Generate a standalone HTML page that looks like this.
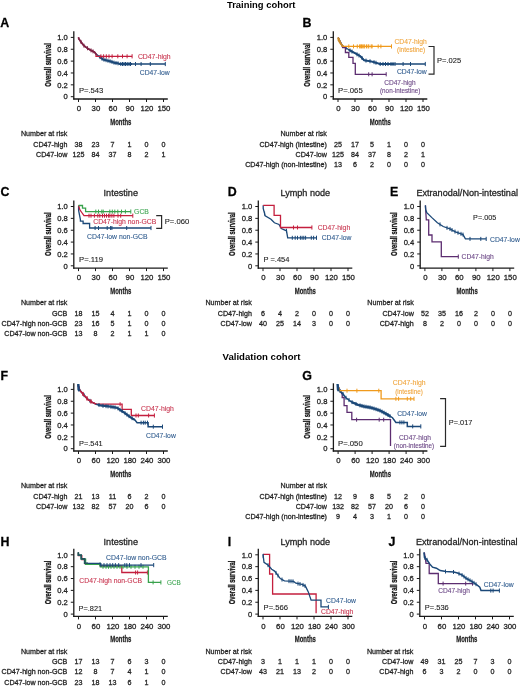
<!DOCTYPE html>
<html><head><meta charset="utf-8"><style>
html,body{margin:0;padding:0;background:#fff;}
svg{display:block;font-family:"Liberation Sans", sans-serif;will-change:transform;}
</style></head><body>
<svg width="520" height="687" viewBox="0 0 520 687" font-family='"Liberation Sans", sans-serif'>
<rect width="520" height="687" fill="#fff"/>
<line x1="73.80" y1="31.30" x2="73.80" y2="99.60" stroke="#1a1a1a" stroke-width="1.3"/>
<line x1="73.20" y1="99.00" x2="167.80" y2="99.00" stroke="#1a1a1a" stroke-width="1.3"/>
<line x1="70.80" y1="37.40" x2="73.80" y2="37.40" stroke="#1a1a1a" stroke-width="1.0"/>
<text x="67.80" y="40.15" font-size="7.6" text-anchor="end" fill="#222" stroke="#222" stroke-width="0.26" font-weight="normal" >1.0</text>
<line x1="70.80" y1="49.26" x2="73.80" y2="49.26" stroke="#1a1a1a" stroke-width="1.0"/>
<text x="67.80" y="52.01" font-size="7.6" text-anchor="end" fill="#222" stroke="#222" stroke-width="0.26" font-weight="normal" >0.8</text>
<line x1="70.80" y1="61.12" x2="73.80" y2="61.12" stroke="#1a1a1a" stroke-width="1.0"/>
<text x="67.80" y="63.87" font-size="7.6" text-anchor="end" fill="#222" stroke="#222" stroke-width="0.26" font-weight="normal" >0.6</text>
<line x1="70.80" y1="72.98" x2="73.80" y2="72.98" stroke="#1a1a1a" stroke-width="1.0"/>
<text x="67.80" y="75.73" font-size="7.6" text-anchor="end" fill="#222" stroke="#222" stroke-width="0.26" font-weight="normal" >0.4</text>
<line x1="70.80" y1="84.84" x2="73.80" y2="84.84" stroke="#1a1a1a" stroke-width="1.0"/>
<text x="67.80" y="87.59" font-size="7.6" text-anchor="end" fill="#222" stroke="#222" stroke-width="0.26" font-weight="normal" >0.2</text>
<line x1="70.80" y1="96.70" x2="73.80" y2="96.70" stroke="#1a1a1a" stroke-width="1.0"/>
<text x="67.80" y="99.45" font-size="7.6" text-anchor="end" fill="#222" stroke="#222" stroke-width="0.26" font-weight="normal" >0</text>
<line x1="78.50" y1="99.00" x2="78.50" y2="102.00" stroke="#1a1a1a" stroke-width="1.0"/>
<text x="78.90" y="111.30" font-size="7.8" text-anchor="middle" fill="#222" stroke="#222" stroke-width="0.26" font-weight="normal" >0</text>
<line x1="95.50" y1="99.00" x2="95.50" y2="102.00" stroke="#1a1a1a" stroke-width="1.0"/>
<text x="95.90" y="111.30" font-size="7.8" text-anchor="middle" fill="#222" stroke="#222" stroke-width="0.26" font-weight="normal" >30</text>
<line x1="112.50" y1="99.00" x2="112.50" y2="102.00" stroke="#1a1a1a" stroke-width="1.0"/>
<text x="112.90" y="111.30" font-size="7.8" text-anchor="middle" fill="#222" stroke="#222" stroke-width="0.26" font-weight="normal" >60</text>
<line x1="129.50" y1="99.00" x2="129.50" y2="102.00" stroke="#1a1a1a" stroke-width="1.0"/>
<text x="129.90" y="111.30" font-size="7.8" text-anchor="middle" fill="#222" stroke="#222" stroke-width="0.26" font-weight="normal" >90</text>
<line x1="146.50" y1="99.00" x2="146.50" y2="102.00" stroke="#1a1a1a" stroke-width="1.0"/>
<text x="146.90" y="111.30" font-size="7.8" text-anchor="middle" fill="#222" stroke="#222" stroke-width="0.26" font-weight="normal" >120</text>
<line x1="163.50" y1="99.00" x2="163.50" y2="102.00" stroke="#1a1a1a" stroke-width="1.0"/>
<text x="163.90" y="111.30" font-size="7.8" text-anchor="middle" fill="#222" stroke="#222" stroke-width="0.26" font-weight="normal" >150</text>
<text x="120.80" y="124.60" font-size="9.6" text-anchor="middle" fill="#222" stroke="#222" stroke-width="0.26" font-weight="bold" textLength="21.2" lengthAdjust="spacingAndGlyphs">Months</text>
<text transform="translate(50.60,65.00) rotate(-90)" font-size="9.6" text-anchor="middle" fill="#111" stroke="#111" stroke-width="0.3" font-weight="bold" textLength="43.6" lengthAdjust="spacingAndGlyphs">Overall survival</text>
<text x="0.20" y="27.40" font-size="12.4" text-anchor="start" fill="#000" stroke="#000" stroke-width="0.26" font-weight="bold" >A</text>
<text x="67.40" y="136.30" font-size="7.15" text-anchor="end" fill="#222" stroke="#222" stroke-width="0.26" font-weight="normal" >Number at risk</text>
<text x="67.40" y="146.60" font-size="7.15" text-anchor="end" fill="#222" stroke="#222" stroke-width="0.26" font-weight="normal" >CD47-high</text>
<text x="78.50" y="146.60" font-size="7.15" text-anchor="middle" fill="#222" stroke="#222" stroke-width="0.26" font-weight="normal" >38</text>
<text x="95.50" y="146.60" font-size="7.15" text-anchor="middle" fill="#222" stroke="#222" stroke-width="0.26" font-weight="normal" >23</text>
<text x="112.50" y="146.60" font-size="7.15" text-anchor="middle" fill="#222" stroke="#222" stroke-width="0.26" font-weight="normal" >7</text>
<text x="129.50" y="146.60" font-size="7.15" text-anchor="middle" fill="#222" stroke="#222" stroke-width="0.26" font-weight="normal" >1</text>
<text x="146.50" y="146.60" font-size="7.15" text-anchor="middle" fill="#222" stroke="#222" stroke-width="0.26" font-weight="normal" >0</text>
<text x="163.50" y="146.60" font-size="7.15" text-anchor="middle" fill="#222" stroke="#222" stroke-width="0.26" font-weight="normal" >0</text>
<text x="67.40" y="156.90" font-size="7.15" text-anchor="end" fill="#222" stroke="#222" stroke-width="0.26" font-weight="normal" >CD47-low</text>
<text x="78.50" y="156.90" font-size="7.15" text-anchor="middle" fill="#222" stroke="#222" stroke-width="0.26" font-weight="normal" >125</text>
<text x="95.50" y="156.90" font-size="7.15" text-anchor="middle" fill="#222" stroke="#222" stroke-width="0.26" font-weight="normal" >84</text>
<text x="112.50" y="156.90" font-size="7.15" text-anchor="middle" fill="#222" stroke="#222" stroke-width="0.26" font-weight="normal" >37</text>
<text x="129.50" y="156.90" font-size="7.15" text-anchor="middle" fill="#222" stroke="#222" stroke-width="0.26" font-weight="normal" >8</text>
<text x="146.50" y="156.90" font-size="7.15" text-anchor="middle" fill="#222" stroke="#222" stroke-width="0.26" font-weight="normal" >2</text>
<text x="163.50" y="156.90" font-size="7.15" text-anchor="middle" fill="#222" stroke="#222" stroke-width="0.26" font-weight="normal" >1</text>
<path d="M78.50,37.40 L78.70,38.60 L81.40,42.50 L83.70,45.50 L86.80,47.80 L90.60,50.20 L94.50,52.10 L96.00,54.00 L99.00,56.30 L102.90,59.40 L108.30,60.80 L110.90,61.50 L114.50,62.80 L118.30,63.40 L119.80,64.00 L165.30,64.00" fill="none" stroke="#1b4878" stroke-width="1.3" stroke-linejoin="miter"/>
<line x1="100.00" y1="55.09" x2="100.00" y2="59.09" stroke="#1b4878" stroke-width="1.0"/>
<line x1="102.00" y1="56.68" x2="102.00" y2="60.68" stroke="#1b4878" stroke-width="1.0"/>
<line x1="104.00" y1="57.69" x2="104.00" y2="61.69" stroke="#1b4878" stroke-width="1.0"/>
<line x1="106.00" y1="58.20" x2="106.00" y2="62.20" stroke="#1b4878" stroke-width="1.0"/>
<line x1="108.00" y1="58.72" x2="108.00" y2="62.72" stroke="#1b4878" stroke-width="1.0"/>
<line x1="110.00" y1="59.26" x2="110.00" y2="63.26" stroke="#1b4878" stroke-width="1.0"/>
<line x1="112.00" y1="59.90" x2="112.00" y2="63.90" stroke="#1b4878" stroke-width="1.0"/>
<line x1="114.00" y1="60.62" x2="114.00" y2="64.62" stroke="#1b4878" stroke-width="1.0"/>
<line x1="116.00" y1="61.04" x2="116.00" y2="65.04" stroke="#1b4878" stroke-width="1.0"/>
<line x1="118.00" y1="61.35" x2="118.00" y2="65.35" stroke="#1b4878" stroke-width="1.0"/>
<line x1="120.80" y1="62.00" x2="120.80" y2="66.00" stroke="#1b4878" stroke-width="1.0"/>
<line x1="122.50" y1="62.00" x2="122.50" y2="66.00" stroke="#1b4878" stroke-width="1.0"/>
<line x1="124.00" y1="62.00" x2="124.00" y2="66.00" stroke="#1b4878" stroke-width="1.0"/>
<line x1="125.50" y1="62.00" x2="125.50" y2="66.00" stroke="#1b4878" stroke-width="1.0"/>
<line x1="127.20" y1="62.00" x2="127.20" y2="66.00" stroke="#1b4878" stroke-width="1.0"/>
<line x1="129.00" y1="62.00" x2="129.00" y2="66.00" stroke="#1b4878" stroke-width="1.0"/>
<line x1="130.50" y1="62.00" x2="130.50" y2="66.00" stroke="#1b4878" stroke-width="1.0"/>
<line x1="135.50" y1="62.00" x2="135.50" y2="66.00" stroke="#1b4878" stroke-width="1.0"/>
<line x1="141.10" y1="62.00" x2="141.10" y2="66.00" stroke="#1b4878" stroke-width="1.0"/>
<line x1="150.30" y1="62.00" x2="150.30" y2="66.00" stroke="#1b4878" stroke-width="1.0"/>
<line x1="165.30" y1="61.90" x2="165.30" y2="66.10" stroke="#1b4878" stroke-width="1.0"/>
<path d="M99.00,56.30 L102.90,59.40 L108.30,60.80 L110.90,61.50 L114.50,62.80 L118.30,63.40 L119.80,64.00 L132.00,64.00" fill="none" stroke="#1b4878" stroke-width="1.9" stroke-linejoin="miter"/>
<path d="M78.50,37.40 L78.70,38.60 L81.40,42.50 L83.70,45.50 L86.80,47.80 L90.60,50.20 L94.50,52.10 L96.00,54.00 L96.00,56.30 L132.10,56.30" fill="none" stroke="#c41f3e" stroke-width="1.3" stroke-linejoin="miter"/>
<line x1="100.90" y1="54.30" x2="100.90" y2="58.30" stroke="#c41f3e" stroke-width="1.0"/>
<line x1="103.60" y1="54.30" x2="103.60" y2="58.30" stroke="#c41f3e" stroke-width="1.0"/>
<line x1="106.30" y1="54.30" x2="106.30" y2="58.30" stroke="#c41f3e" stroke-width="1.0"/>
<line x1="109.00" y1="54.30" x2="109.00" y2="58.30" stroke="#c41f3e" stroke-width="1.0"/>
<line x1="112.10" y1="54.30" x2="112.10" y2="58.30" stroke="#c41f3e" stroke-width="1.0"/>
<line x1="117.80" y1="54.30" x2="117.80" y2="58.30" stroke="#c41f3e" stroke-width="1.0"/>
<line x1="122.50" y1="54.30" x2="122.50" y2="58.30" stroke="#c41f3e" stroke-width="1.0"/>
<line x1="127.10" y1="54.30" x2="127.10" y2="58.30" stroke="#c41f3e" stroke-width="1.0"/>
<line x1="132.10" y1="54.20" x2="132.10" y2="58.40" stroke="#c41f3e" stroke-width="1.0"/>
<path d="M78.50,37.40 L78.70,38.60 L81.40,42.50 L83.70,45.50 L86.80,47.80 L90.60,50.20 L94.50,52.10 L96.00,54.00 L97.00,55.00" fill="none" stroke="#7e2446" stroke-width="1.6" stroke-linejoin="miter"/>
<line x1="81.00" y1="39.92" x2="81.00" y2="43.92" stroke="#7e2446" stroke-width="1.0"/>
<line x1="84.00" y1="43.72" x2="84.00" y2="47.72" stroke="#7e2446" stroke-width="1.0"/>
<line x1="87.50" y1="46.24" x2="87.50" y2="50.24" stroke="#7e2446" stroke-width="1.0"/>
<line x1="91.00" y1="48.39" x2="91.00" y2="52.39" stroke="#7e2446" stroke-width="1.0"/>
<line x1="93.00" y1="49.37" x2="93.00" y2="53.37" stroke="#7e2446" stroke-width="1.0"/>
<text x="137.90" y="58.70" font-size="7" fill="#c8354f" stroke="#c8354f" stroke-width="0.1" textLength="32.8" lengthAdjust="spacingAndGlyphs">CD47-high</text>
<text x="139.80" y="75.20" font-size="7" fill="#2f5b8e" stroke="#2f5b8e" stroke-width="0.1" textLength="29.8" lengthAdjust="spacingAndGlyphs">CD47-low</text>
<text x="78.90" y="92.90" font-size="7" fill="#222" stroke="#222" stroke-width="0.1" textLength="24.5" lengthAdjust="spacingAndGlyphs">P=.543</text>
<line x1="333.30" y1="31.30" x2="333.30" y2="99.60" stroke="#1a1a1a" stroke-width="1.3"/>
<line x1="332.70" y1="99.00" x2="427.30" y2="99.00" stroke="#1a1a1a" stroke-width="1.3"/>
<line x1="330.30" y1="37.40" x2="333.30" y2="37.40" stroke="#1a1a1a" stroke-width="1.0"/>
<text x="327.30" y="40.15" font-size="7.6" text-anchor="end" fill="#222" stroke="#222" stroke-width="0.26" font-weight="normal" >1.0</text>
<line x1="330.30" y1="49.26" x2="333.30" y2="49.26" stroke="#1a1a1a" stroke-width="1.0"/>
<text x="327.30" y="52.01" font-size="7.6" text-anchor="end" fill="#222" stroke="#222" stroke-width="0.26" font-weight="normal" >0.8</text>
<line x1="330.30" y1="61.12" x2="333.30" y2="61.12" stroke="#1a1a1a" stroke-width="1.0"/>
<text x="327.30" y="63.87" font-size="7.6" text-anchor="end" fill="#222" stroke="#222" stroke-width="0.26" font-weight="normal" >0.6</text>
<line x1="330.30" y1="72.98" x2="333.30" y2="72.98" stroke="#1a1a1a" stroke-width="1.0"/>
<text x="327.30" y="75.73" font-size="7.6" text-anchor="end" fill="#222" stroke="#222" stroke-width="0.26" font-weight="normal" >0.4</text>
<line x1="330.30" y1="84.84" x2="333.30" y2="84.84" stroke="#1a1a1a" stroke-width="1.0"/>
<text x="327.30" y="87.59" font-size="7.6" text-anchor="end" fill="#222" stroke="#222" stroke-width="0.26" font-weight="normal" >0.2</text>
<line x1="330.30" y1="96.70" x2="333.30" y2="96.70" stroke="#1a1a1a" stroke-width="1.0"/>
<text x="327.30" y="99.45" font-size="7.6" text-anchor="end" fill="#222" stroke="#222" stroke-width="0.26" font-weight="normal" >0</text>
<line x1="338.00" y1="99.00" x2="338.00" y2="102.00" stroke="#1a1a1a" stroke-width="1.0"/>
<text x="338.40" y="111.30" font-size="7.8" text-anchor="middle" fill="#222" stroke="#222" stroke-width="0.26" font-weight="normal" >0</text>
<line x1="355.00" y1="99.00" x2="355.00" y2="102.00" stroke="#1a1a1a" stroke-width="1.0"/>
<text x="355.40" y="111.30" font-size="7.8" text-anchor="middle" fill="#222" stroke="#222" stroke-width="0.26" font-weight="normal" >30</text>
<line x1="372.00" y1="99.00" x2="372.00" y2="102.00" stroke="#1a1a1a" stroke-width="1.0"/>
<text x="372.40" y="111.30" font-size="7.8" text-anchor="middle" fill="#222" stroke="#222" stroke-width="0.26" font-weight="normal" >60</text>
<line x1="389.00" y1="99.00" x2="389.00" y2="102.00" stroke="#1a1a1a" stroke-width="1.0"/>
<text x="389.40" y="111.30" font-size="7.8" text-anchor="middle" fill="#222" stroke="#222" stroke-width="0.26" font-weight="normal" >90</text>
<line x1="406.00" y1="99.00" x2="406.00" y2="102.00" stroke="#1a1a1a" stroke-width="1.0"/>
<text x="406.40" y="111.30" font-size="7.8" text-anchor="middle" fill="#222" stroke="#222" stroke-width="0.26" font-weight="normal" >120</text>
<line x1="423.00" y1="99.00" x2="423.00" y2="102.00" stroke="#1a1a1a" stroke-width="1.0"/>
<text x="423.40" y="111.30" font-size="7.8" text-anchor="middle" fill="#222" stroke="#222" stroke-width="0.26" font-weight="normal" >150</text>
<text x="380.30" y="124.60" font-size="9.6" text-anchor="middle" fill="#222" stroke="#222" stroke-width="0.26" font-weight="bold" textLength="21.2" lengthAdjust="spacingAndGlyphs">Months</text>
<text transform="translate(310.10,65.00) rotate(-90)" font-size="9.6" text-anchor="middle" fill="#111" stroke="#111" stroke-width="0.3" font-weight="bold" textLength="43.6" lengthAdjust="spacingAndGlyphs">Overall survival</text>
<text x="302.50" y="27.40" font-size="12.4" text-anchor="start" fill="#000" stroke="#000" stroke-width="0.26" font-weight="bold" >B</text>
<text x="326.90" y="136.30" font-size="7.15" text-anchor="end" fill="#222" stroke="#222" stroke-width="0.26" font-weight="normal" >Number at risk</text>
<text x="326.90" y="146.60" font-size="7.15" text-anchor="end" fill="#222" stroke="#222" stroke-width="0.26" font-weight="normal" >CD47-high (intestine)</text>
<text x="338.00" y="146.60" font-size="7.15" text-anchor="middle" fill="#222" stroke="#222" stroke-width="0.26" font-weight="normal" >25</text>
<text x="355.00" y="146.60" font-size="7.15" text-anchor="middle" fill="#222" stroke="#222" stroke-width="0.26" font-weight="normal" >17</text>
<text x="372.00" y="146.60" font-size="7.15" text-anchor="middle" fill="#222" stroke="#222" stroke-width="0.26" font-weight="normal" >5</text>
<text x="389.00" y="146.60" font-size="7.15" text-anchor="middle" fill="#222" stroke="#222" stroke-width="0.26" font-weight="normal" >1</text>
<text x="406.00" y="146.60" font-size="7.15" text-anchor="middle" fill="#222" stroke="#222" stroke-width="0.26" font-weight="normal" >0</text>
<text x="423.00" y="146.60" font-size="7.15" text-anchor="middle" fill="#222" stroke="#222" stroke-width="0.26" font-weight="normal" >0</text>
<text x="326.90" y="156.90" font-size="7.15" text-anchor="end" fill="#222" stroke="#222" stroke-width="0.26" font-weight="normal" >CD47-low</text>
<text x="338.00" y="156.90" font-size="7.15" text-anchor="middle" fill="#222" stroke="#222" stroke-width="0.26" font-weight="normal" >125</text>
<text x="355.00" y="156.90" font-size="7.15" text-anchor="middle" fill="#222" stroke="#222" stroke-width="0.26" font-weight="normal" >84</text>
<text x="372.00" y="156.90" font-size="7.15" text-anchor="middle" fill="#222" stroke="#222" stroke-width="0.26" font-weight="normal" >37</text>
<text x="389.00" y="156.90" font-size="7.15" text-anchor="middle" fill="#222" stroke="#222" stroke-width="0.26" font-weight="normal" >8</text>
<text x="406.00" y="156.90" font-size="7.15" text-anchor="middle" fill="#222" stroke="#222" stroke-width="0.26" font-weight="normal" >2</text>
<text x="423.00" y="156.90" font-size="7.15" text-anchor="middle" fill="#222" stroke="#222" stroke-width="0.26" font-weight="normal" >1</text>
<text x="326.90" y="167.20" font-size="7.15" text-anchor="end" fill="#222" stroke="#222" stroke-width="0.26" font-weight="normal" >CD47-high (non-intestine)</text>
<text x="338.00" y="167.20" font-size="7.15" text-anchor="middle" fill="#222" stroke="#222" stroke-width="0.26" font-weight="normal" >13</text>
<text x="355.00" y="167.20" font-size="7.15" text-anchor="middle" fill="#222" stroke="#222" stroke-width="0.26" font-weight="normal" >6</text>
<text x="372.00" y="167.20" font-size="7.15" text-anchor="middle" fill="#222" stroke="#222" stroke-width="0.26" font-weight="normal" >2</text>
<text x="389.00" y="167.20" font-size="7.15" text-anchor="middle" fill="#222" stroke="#222" stroke-width="0.26" font-weight="normal" >0</text>
<text x="406.00" y="167.20" font-size="7.15" text-anchor="middle" fill="#222" stroke="#222" stroke-width="0.26" font-weight="normal" >0</text>
<text x="423.00" y="167.20" font-size="7.15" text-anchor="middle" fill="#222" stroke="#222" stroke-width="0.26" font-weight="normal" >0</text>
<path d="M338.00,37.60 L338.50,38.20 L341.50,44.00 L342.30,45.50 L348.80,49.80 L355.00,53.20 L360.40,56.30 L364.20,60.30 L368.00,60.90 L372.10,61.60 L378.80,63.60 L380.00,64.00 L425.30,64.00" fill="none" stroke="#1b4878" stroke-width="1.3" stroke-linejoin="miter"/>
<line x1="346.00" y1="45.95" x2="346.00" y2="49.95" stroke="#1b4878" stroke-width="1.0"/>
<line x1="350.00" y1="48.46" x2="350.00" y2="52.46" stroke="#1b4878" stroke-width="1.0"/>
<line x1="352.00" y1="49.55" x2="352.00" y2="53.55" stroke="#1b4878" stroke-width="1.0"/>
<line x1="357.00" y1="52.35" x2="357.00" y2="56.35" stroke="#1b4878" stroke-width="1.0"/>
<line x1="359.00" y1="53.50" x2="359.00" y2="57.50" stroke="#1b4878" stroke-width="1.0"/>
<line x1="362.00" y1="55.98" x2="362.00" y2="59.98" stroke="#1b4878" stroke-width="1.0"/>
<line x1="366.00" y1="58.58" x2="366.00" y2="62.58" stroke="#1b4878" stroke-width="1.0"/>
<line x1="370.00" y1="59.24" x2="370.00" y2="63.24" stroke="#1b4878" stroke-width="1.0"/>
<line x1="374.00" y1="60.17" x2="374.00" y2="64.17" stroke="#1b4878" stroke-width="1.0"/>
<line x1="376.00" y1="60.76" x2="376.00" y2="64.76" stroke="#1b4878" stroke-width="1.0"/>
<line x1="380.20" y1="62.00" x2="380.20" y2="66.00" stroke="#1b4878" stroke-width="1.0"/>
<line x1="383.00" y1="62.00" x2="383.00" y2="66.00" stroke="#1b4878" stroke-width="1.0"/>
<line x1="385.50" y1="62.00" x2="385.50" y2="66.00" stroke="#1b4878" stroke-width="1.0"/>
<line x1="388.00" y1="62.00" x2="388.00" y2="66.00" stroke="#1b4878" stroke-width="1.0"/>
<line x1="391.00" y1="62.00" x2="391.00" y2="66.00" stroke="#1b4878" stroke-width="1.0"/>
<line x1="393.00" y1="62.00" x2="393.00" y2="66.00" stroke="#1b4878" stroke-width="1.0"/>
<line x1="395.00" y1="62.00" x2="395.00" y2="66.00" stroke="#1b4878" stroke-width="1.0"/>
<line x1="403.10" y1="62.00" x2="403.10" y2="66.00" stroke="#1b4878" stroke-width="1.0"/>
<line x1="410.50" y1="62.00" x2="410.50" y2="66.00" stroke="#1b4878" stroke-width="1.0"/>
<line x1="425.30" y1="61.90" x2="425.30" y2="66.10" stroke="#1b4878" stroke-width="1.0"/>
<path d="M348.80,49.80 L355.00,53.20 L360.40,56.30 L364.20,60.30 L368.00,60.90 L372.10,61.60 L378.80,63.60 L380.00,64.00 L394.00,64.00" fill="none" stroke="#1b4878" stroke-width="1.9" stroke-linejoin="miter"/>
<path d="M338.00,37.60 L338.50,38.20 L341.50,44.50 L342.70,47.50 L345.40,47.50 L345.40,52.50 L348.80,52.50 L348.80,57.40 L353.00,57.40 L353.00,63.30 L355.30,63.30 L355.30,74.30 L386.20,74.30" fill="none" stroke="#5c2d70" stroke-width="1.3" stroke-linejoin="miter"/>
<line x1="368.70" y1="72.30" x2="368.70" y2="76.30" stroke="#5c2d70" stroke-width="1.0"/>
<line x1="372.10" y1="72.30" x2="372.10" y2="76.30" stroke="#5c2d70" stroke-width="1.0"/>
<line x1="386.20" y1="72.20" x2="386.20" y2="76.40" stroke="#5c2d70" stroke-width="1.0"/>
<path d="M338.00,37.60 L338.50,38.20 L340.80,43.20 L342.30,45.90 L342.30,46.40 L391.50,46.40" fill="none" stroke="#f09a1c" stroke-width="1.3" stroke-linejoin="miter"/>
<line x1="348.80" y1="44.40" x2="348.80" y2="48.40" stroke="#f09a1c" stroke-width="1.0"/>
<line x1="353.50" y1="44.40" x2="353.50" y2="48.40" stroke="#f09a1c" stroke-width="1.0"/>
<line x1="357.30" y1="44.40" x2="357.30" y2="48.40" stroke="#f09a1c" stroke-width="1.0"/>
<line x1="359.60" y1="44.40" x2="359.60" y2="48.40" stroke="#f09a1c" stroke-width="1.0"/>
<line x1="360.70" y1="44.40" x2="360.70" y2="48.40" stroke="#f09a1c" stroke-width="1.0"/>
<line x1="361.50" y1="44.40" x2="361.50" y2="48.40" stroke="#f09a1c" stroke-width="1.0"/>
<line x1="362.70" y1="44.40" x2="362.70" y2="48.40" stroke="#f09a1c" stroke-width="1.0"/>
<line x1="363.80" y1="44.40" x2="363.80" y2="48.40" stroke="#f09a1c" stroke-width="1.0"/>
<line x1="364.70" y1="44.40" x2="364.70" y2="48.40" stroke="#f09a1c" stroke-width="1.0"/>
<line x1="366.50" y1="44.40" x2="366.50" y2="48.40" stroke="#f09a1c" stroke-width="1.0"/>
<line x1="368.10" y1="44.40" x2="368.10" y2="48.40" stroke="#f09a1c" stroke-width="1.0"/>
<line x1="368.80" y1="44.40" x2="368.80" y2="48.40" stroke="#f09a1c" stroke-width="1.0"/>
<line x1="371.20" y1="44.40" x2="371.20" y2="48.40" stroke="#f09a1c" stroke-width="1.0"/>
<line x1="372.10" y1="44.40" x2="372.10" y2="48.40" stroke="#f09a1c" stroke-width="1.0"/>
<line x1="378.20" y1="44.40" x2="378.20" y2="48.40" stroke="#f09a1c" stroke-width="1.0"/>
<line x1="380.90" y1="44.40" x2="380.90" y2="48.40" stroke="#f09a1c" stroke-width="1.0"/>
<line x1="391.50" y1="44.30" x2="391.50" y2="48.50" stroke="#f09a1c" stroke-width="1.0"/>
<path d="M338.20,37.60 L338.60,40.50 L340.50,43.50 L343.00,46.40" fill="none" stroke="#c98a2a" stroke-width="1.9" stroke-linejoin="miter"/>
<text x="394.40" y="43.90" font-size="7" fill="#f0a53c" stroke="#f0a53c" stroke-width="0.1" textLength="32.3" lengthAdjust="spacingAndGlyphs">CD47-high</text>
<text x="397.00" y="51.60" font-size="7" fill="#f0a53c" stroke="#f0a53c" stroke-width="0.1" textLength="28.2" lengthAdjust="spacingAndGlyphs">(intestine)</text>
<text x="396.90" y="73.80" font-size="7" fill="#2f5b8e" stroke="#2f5b8e" stroke-width="0.1" textLength="29.8" lengthAdjust="spacingAndGlyphs">CD47-low</text>
<text x="384.20" y="84.50" font-size="7" fill="#6a4585" stroke="#6a4585" stroke-width="0.1" textLength="31.4" lengthAdjust="spacingAndGlyphs">CD47-high</text>
<text x="380.00" y="92.70" font-size="7" fill="#6a4585" stroke="#6a4585" stroke-width="0.1" textLength="40.4" lengthAdjust="spacingAndGlyphs">(non-intestine)</text>
<text x="437.10" y="62.70" font-size="7" fill="#222" stroke="#222" stroke-width="0.1" textLength="24.1" lengthAdjust="spacingAndGlyphs">P=.025</text>
<text x="338.00" y="93.30" font-size="7" fill="#222" stroke="#222" stroke-width="0.1" textLength="24.7" lengthAdjust="spacingAndGlyphs">P=.065</text>
<path d="M428.50,46.50H434.00V74.20H428.50" fill="none" stroke="#2a2a2a" stroke-width="1.2"/>
<line x1="73.80" y1="200.40" x2="73.80" y2="268.70" stroke="#1a1a1a" stroke-width="1.3"/>
<line x1="73.20" y1="268.10" x2="167.80" y2="268.10" stroke="#1a1a1a" stroke-width="1.3"/>
<line x1="70.80" y1="206.50" x2="73.80" y2="206.50" stroke="#1a1a1a" stroke-width="1.0"/>
<text x="67.80" y="209.25" font-size="7.6" text-anchor="end" fill="#222" stroke="#222" stroke-width="0.26" font-weight="normal" >1.0</text>
<line x1="70.80" y1="218.36" x2="73.80" y2="218.36" stroke="#1a1a1a" stroke-width="1.0"/>
<text x="67.80" y="221.11" font-size="7.6" text-anchor="end" fill="#222" stroke="#222" stroke-width="0.26" font-weight="normal" >0.8</text>
<line x1="70.80" y1="230.22" x2="73.80" y2="230.22" stroke="#1a1a1a" stroke-width="1.0"/>
<text x="67.80" y="232.97" font-size="7.6" text-anchor="end" fill="#222" stroke="#222" stroke-width="0.26" font-weight="normal" >0.6</text>
<line x1="70.80" y1="242.08" x2="73.80" y2="242.08" stroke="#1a1a1a" stroke-width="1.0"/>
<text x="67.80" y="244.83" font-size="7.6" text-anchor="end" fill="#222" stroke="#222" stroke-width="0.26" font-weight="normal" >0.4</text>
<line x1="70.80" y1="253.94" x2="73.80" y2="253.94" stroke="#1a1a1a" stroke-width="1.0"/>
<text x="67.80" y="256.69" font-size="7.6" text-anchor="end" fill="#222" stroke="#222" stroke-width="0.26" font-weight="normal" >0.2</text>
<line x1="70.80" y1="265.80" x2="73.80" y2="265.80" stroke="#1a1a1a" stroke-width="1.0"/>
<text x="67.80" y="268.55" font-size="7.6" text-anchor="end" fill="#222" stroke="#222" stroke-width="0.26" font-weight="normal" >0</text>
<line x1="78.50" y1="268.10" x2="78.50" y2="271.10" stroke="#1a1a1a" stroke-width="1.0"/>
<text x="78.90" y="280.40" font-size="7.8" text-anchor="middle" fill="#222" stroke="#222" stroke-width="0.26" font-weight="normal" >0</text>
<line x1="95.50" y1="268.10" x2="95.50" y2="271.10" stroke="#1a1a1a" stroke-width="1.0"/>
<text x="95.90" y="280.40" font-size="7.8" text-anchor="middle" fill="#222" stroke="#222" stroke-width="0.26" font-weight="normal" >30</text>
<line x1="112.50" y1="268.10" x2="112.50" y2="271.10" stroke="#1a1a1a" stroke-width="1.0"/>
<text x="112.90" y="280.40" font-size="7.8" text-anchor="middle" fill="#222" stroke="#222" stroke-width="0.26" font-weight="normal" >60</text>
<line x1="129.50" y1="268.10" x2="129.50" y2="271.10" stroke="#1a1a1a" stroke-width="1.0"/>
<text x="129.90" y="280.40" font-size="7.8" text-anchor="middle" fill="#222" stroke="#222" stroke-width="0.26" font-weight="normal" >90</text>
<line x1="146.50" y1="268.10" x2="146.50" y2="271.10" stroke="#1a1a1a" stroke-width="1.0"/>
<text x="146.90" y="280.40" font-size="7.8" text-anchor="middle" fill="#222" stroke="#222" stroke-width="0.26" font-weight="normal" >120</text>
<line x1="163.50" y1="268.10" x2="163.50" y2="271.10" stroke="#1a1a1a" stroke-width="1.0"/>
<text x="163.90" y="280.40" font-size="7.8" text-anchor="middle" fill="#222" stroke="#222" stroke-width="0.26" font-weight="normal" >150</text>
<text x="120.80" y="293.70" font-size="9.6" text-anchor="middle" fill="#222" stroke="#222" stroke-width="0.26" font-weight="bold" textLength="21.2" lengthAdjust="spacingAndGlyphs">Months</text>
<text transform="translate(50.60,234.10) rotate(-90)" font-size="9.6" text-anchor="middle" fill="#111" stroke="#111" stroke-width="0.3" font-weight="bold" textLength="43.6" lengthAdjust="spacingAndGlyphs">Overall survival</text>
<text x="0.40" y="196.40" font-size="12.4" text-anchor="start" fill="#000" stroke="#000" stroke-width="0.26" font-weight="bold" >C</text>
<text x="120.80" y="195.70" font-size="9.1" text-anchor="middle" fill="#222" stroke="#222" stroke-width="0.26" font-weight="normal" >Intestine</text>
<text x="67.40" y="305.40" font-size="7.15" text-anchor="end" fill="#222" stroke="#222" stroke-width="0.26" font-weight="normal" >Number at risk</text>
<text x="67.40" y="315.70" font-size="7.15" text-anchor="end" fill="#222" stroke="#222" stroke-width="0.26" font-weight="normal" >GCB</text>
<text x="78.50" y="315.70" font-size="7.15" text-anchor="middle" fill="#222" stroke="#222" stroke-width="0.26" font-weight="normal" >18</text>
<text x="95.50" y="315.70" font-size="7.15" text-anchor="middle" fill="#222" stroke="#222" stroke-width="0.26" font-weight="normal" >15</text>
<text x="112.50" y="315.70" font-size="7.15" text-anchor="middle" fill="#222" stroke="#222" stroke-width="0.26" font-weight="normal" >4</text>
<text x="129.50" y="315.70" font-size="7.15" text-anchor="middle" fill="#222" stroke="#222" stroke-width="0.26" font-weight="normal" >1</text>
<text x="146.50" y="315.70" font-size="7.15" text-anchor="middle" fill="#222" stroke="#222" stroke-width="0.26" font-weight="normal" >0</text>
<text x="163.50" y="315.70" font-size="7.15" text-anchor="middle" fill="#222" stroke="#222" stroke-width="0.26" font-weight="normal" >0</text>
<text x="67.40" y="326.00" font-size="7.15" text-anchor="end" fill="#222" stroke="#222" stroke-width="0.26" font-weight="normal" >CD47-high non-GCB</text>
<text x="78.50" y="326.00" font-size="7.15" text-anchor="middle" fill="#222" stroke="#222" stroke-width="0.26" font-weight="normal" >23</text>
<text x="95.50" y="326.00" font-size="7.15" text-anchor="middle" fill="#222" stroke="#222" stroke-width="0.26" font-weight="normal" >16</text>
<text x="112.50" y="326.00" font-size="7.15" text-anchor="middle" fill="#222" stroke="#222" stroke-width="0.26" font-weight="normal" >5</text>
<text x="129.50" y="326.00" font-size="7.15" text-anchor="middle" fill="#222" stroke="#222" stroke-width="0.26" font-weight="normal" >1</text>
<text x="146.50" y="326.00" font-size="7.15" text-anchor="middle" fill="#222" stroke="#222" stroke-width="0.26" font-weight="normal" >0</text>
<text x="163.50" y="326.00" font-size="7.15" text-anchor="middle" fill="#222" stroke="#222" stroke-width="0.26" font-weight="normal" >0</text>
<text x="67.40" y="336.30" font-size="7.15" text-anchor="end" fill="#222" stroke="#222" stroke-width="0.26" font-weight="normal" >CD47-low non-GCB</text>
<text x="78.50" y="336.30" font-size="7.15" text-anchor="middle" fill="#222" stroke="#222" stroke-width="0.26" font-weight="normal" >13</text>
<text x="95.50" y="336.30" font-size="7.15" text-anchor="middle" fill="#222" stroke="#222" stroke-width="0.26" font-weight="normal" >8</text>
<text x="112.50" y="336.30" font-size="7.15" text-anchor="middle" fill="#222" stroke="#222" stroke-width="0.26" font-weight="normal" >2</text>
<text x="129.50" y="336.30" font-size="7.15" text-anchor="middle" fill="#222" stroke="#222" stroke-width="0.26" font-weight="normal" >1</text>
<text x="146.50" y="336.30" font-size="7.15" text-anchor="middle" fill="#222" stroke="#222" stroke-width="0.26" font-weight="normal" >1</text>
<text x="163.50" y="336.30" font-size="7.15" text-anchor="middle" fill="#222" stroke="#222" stroke-width="0.26" font-weight="normal" >0</text>
<path d="M78.60,205.50 L78.60,210.40 L80.40,219.60 L80.40,221.20 L83.10,221.20 L83.10,223.50 L89.60,223.50 L89.60,228.00 L151.00,228.00" fill="none" stroke="#1b4878" stroke-width="1.3" stroke-linejoin="miter"/>
<line x1="95.10" y1="226.00" x2="95.10" y2="230.00" stroke="#1b4878" stroke-width="1.0"/>
<line x1="98.50" y1="226.00" x2="98.50" y2="230.00" stroke="#1b4878" stroke-width="1.0"/>
<line x1="107.20" y1="226.00" x2="107.20" y2="230.00" stroke="#1b4878" stroke-width="1.0"/>
<line x1="110.60" y1="226.00" x2="110.60" y2="230.00" stroke="#1b4878" stroke-width="1.0"/>
<line x1="111.90" y1="226.00" x2="111.90" y2="230.00" stroke="#1b4878" stroke-width="1.0"/>
<line x1="126.70" y1="226.00" x2="126.70" y2="230.00" stroke="#1b4878" stroke-width="1.0"/>
<line x1="151.00" y1="225.90" x2="151.00" y2="230.10" stroke="#1b4878" stroke-width="1.0"/>
<path d="M78.60,205.50 L79.80,209.70 L81.40,212.00 L83.30,214.70 L84.00,215.70 L132.80,215.70" fill="none" stroke="#c41f3e" stroke-width="1.3" stroke-linejoin="miter"/>
<line x1="89.00" y1="213.70" x2="89.00" y2="217.70" stroke="#c41f3e" stroke-width="1.0"/>
<line x1="91.00" y1="213.70" x2="91.00" y2="217.70" stroke="#c41f3e" stroke-width="1.0"/>
<line x1="94.40" y1="213.70" x2="94.40" y2="217.70" stroke="#c41f3e" stroke-width="1.0"/>
<line x1="97.80" y1="213.70" x2="97.80" y2="217.70" stroke="#c41f3e" stroke-width="1.0"/>
<line x1="99.80" y1="213.70" x2="99.80" y2="217.70" stroke="#c41f3e" stroke-width="1.0"/>
<line x1="102.50" y1="213.70" x2="102.50" y2="217.70" stroke="#c41f3e" stroke-width="1.0"/>
<line x1="104.50" y1="213.70" x2="104.50" y2="217.70" stroke="#c41f3e" stroke-width="1.0"/>
<line x1="106.50" y1="213.70" x2="106.50" y2="217.70" stroke="#c41f3e" stroke-width="1.0"/>
<line x1="108.60" y1="213.70" x2="108.60" y2="217.70" stroke="#c41f3e" stroke-width="1.0"/>
<line x1="109.90" y1="213.70" x2="109.90" y2="217.70" stroke="#c41f3e" stroke-width="1.0"/>
<line x1="111.90" y1="213.70" x2="111.90" y2="217.70" stroke="#c41f3e" stroke-width="1.0"/>
<line x1="113.90" y1="213.70" x2="113.90" y2="217.70" stroke="#c41f3e" stroke-width="1.0"/>
<line x1="118.00" y1="213.70" x2="118.00" y2="217.70" stroke="#c41f3e" stroke-width="1.0"/>
<line x1="120.70" y1="213.70" x2="120.70" y2="217.70" stroke="#c41f3e" stroke-width="1.0"/>
<line x1="132.80" y1="213.60" x2="132.80" y2="217.80" stroke="#c41f3e" stroke-width="1.0"/>
<path d="M78.60,205.50 L82.50,205.50 L82.50,208.20 L85.60,208.20 L85.60,211.60 L130.80,211.60" fill="none" stroke="#38a24c" stroke-width="1.3" stroke-linejoin="miter"/>
<line x1="95.80" y1="209.60" x2="95.80" y2="213.60" stroke="#38a24c" stroke-width="1.0"/>
<line x1="98.50" y1="209.60" x2="98.50" y2="213.60" stroke="#38a24c" stroke-width="1.0"/>
<line x1="101.80" y1="209.60" x2="101.80" y2="213.60" stroke="#38a24c" stroke-width="1.0"/>
<line x1="103.20" y1="209.60" x2="103.20" y2="213.60" stroke="#38a24c" stroke-width="1.0"/>
<line x1="109.80" y1="209.60" x2="109.80" y2="213.60" stroke="#38a24c" stroke-width="1.0"/>
<line x1="112.30" y1="209.60" x2="112.30" y2="213.60" stroke="#38a24c" stroke-width="1.0"/>
<line x1="114.80" y1="209.60" x2="114.80" y2="213.60" stroke="#38a24c" stroke-width="1.0"/>
<line x1="117.80" y1="209.60" x2="117.80" y2="213.60" stroke="#38a24c" stroke-width="1.0"/>
<line x1="121.50" y1="209.60" x2="121.50" y2="213.60" stroke="#38a24c" stroke-width="1.0"/>
<line x1="125.40" y1="209.60" x2="125.40" y2="213.60" stroke="#38a24c" stroke-width="1.0"/>
<line x1="130.80" y1="209.50" x2="130.80" y2="213.70" stroke="#38a24c" stroke-width="1.0"/>
<text x="134.10" y="214.30" font-size="7" fill="#3fa653" stroke="#3fa653" stroke-width="0.1" textLength="14.8" lengthAdjust="spacingAndGlyphs">GCB</text>
<text x="93.20" y="224.00" font-size="7" fill="#c8354f" stroke="#c8354f" stroke-width="0.1" textLength="63.1" lengthAdjust="spacingAndGlyphs">CD47-high non-GCB</text>
<text x="87.00" y="238.50" font-size="7" fill="#2f5b8e" stroke="#2f5b8e" stroke-width="0.1" textLength="60.5" lengthAdjust="spacingAndGlyphs">CD47-low non-GCB</text>
<text x="164.70" y="224.00" font-size="7" fill="#222" stroke="#222" stroke-width="0.1" textLength="24.5" lengthAdjust="spacingAndGlyphs">P=.060</text>
<path d="M156.20,215.60H161.60V228.30H156.20" fill="none" stroke="#2a2a2a" stroke-width="1.2"/>
<text x="79.00" y="261.70" font-size="7" fill="#222" stroke="#222" stroke-width="0.1" textLength="24.1" lengthAdjust="spacingAndGlyphs">P=.119</text>
<line x1="258.30" y1="200.40" x2="258.30" y2="268.70" stroke="#1a1a1a" stroke-width="1.3"/>
<line x1="257.70" y1="268.10" x2="352.30" y2="268.10" stroke="#1a1a1a" stroke-width="1.3"/>
<line x1="255.30" y1="206.50" x2="258.30" y2="206.50" stroke="#1a1a1a" stroke-width="1.0"/>
<text x="252.30" y="209.25" font-size="7.6" text-anchor="end" fill="#222" stroke="#222" stroke-width="0.26" font-weight="normal" >1.0</text>
<line x1="255.30" y1="218.36" x2="258.30" y2="218.36" stroke="#1a1a1a" stroke-width="1.0"/>
<text x="252.30" y="221.11" font-size="7.6" text-anchor="end" fill="#222" stroke="#222" stroke-width="0.26" font-weight="normal" >0.8</text>
<line x1="255.30" y1="230.22" x2="258.30" y2="230.22" stroke="#1a1a1a" stroke-width="1.0"/>
<text x="252.30" y="232.97" font-size="7.6" text-anchor="end" fill="#222" stroke="#222" stroke-width="0.26" font-weight="normal" >0.6</text>
<line x1="255.30" y1="242.08" x2="258.30" y2="242.08" stroke="#1a1a1a" stroke-width="1.0"/>
<text x="252.30" y="244.83" font-size="7.6" text-anchor="end" fill="#222" stroke="#222" stroke-width="0.26" font-weight="normal" >0.4</text>
<line x1="255.30" y1="253.94" x2="258.30" y2="253.94" stroke="#1a1a1a" stroke-width="1.0"/>
<text x="252.30" y="256.69" font-size="7.6" text-anchor="end" fill="#222" stroke="#222" stroke-width="0.26" font-weight="normal" >0.2</text>
<line x1="255.30" y1="265.80" x2="258.30" y2="265.80" stroke="#1a1a1a" stroke-width="1.0"/>
<text x="252.30" y="268.55" font-size="7.6" text-anchor="end" fill="#222" stroke="#222" stroke-width="0.26" font-weight="normal" >0</text>
<line x1="263.00" y1="268.10" x2="263.00" y2="271.10" stroke="#1a1a1a" stroke-width="1.0"/>
<text x="263.40" y="280.40" font-size="7.8" text-anchor="middle" fill="#222" stroke="#222" stroke-width="0.26" font-weight="normal" >0</text>
<line x1="280.00" y1="268.10" x2="280.00" y2="271.10" stroke="#1a1a1a" stroke-width="1.0"/>
<text x="280.40" y="280.40" font-size="7.8" text-anchor="middle" fill="#222" stroke="#222" stroke-width="0.26" font-weight="normal" >30</text>
<line x1="297.00" y1="268.10" x2="297.00" y2="271.10" stroke="#1a1a1a" stroke-width="1.0"/>
<text x="297.40" y="280.40" font-size="7.8" text-anchor="middle" fill="#222" stroke="#222" stroke-width="0.26" font-weight="normal" >60</text>
<line x1="314.00" y1="268.10" x2="314.00" y2="271.10" stroke="#1a1a1a" stroke-width="1.0"/>
<text x="314.40" y="280.40" font-size="7.8" text-anchor="middle" fill="#222" stroke="#222" stroke-width="0.26" font-weight="normal" >90</text>
<line x1="331.00" y1="268.10" x2="331.00" y2="271.10" stroke="#1a1a1a" stroke-width="1.0"/>
<text x="331.40" y="280.40" font-size="7.8" text-anchor="middle" fill="#222" stroke="#222" stroke-width="0.26" font-weight="normal" >120</text>
<line x1="348.00" y1="268.10" x2="348.00" y2="271.10" stroke="#1a1a1a" stroke-width="1.0"/>
<text x="348.40" y="280.40" font-size="7.8" text-anchor="middle" fill="#222" stroke="#222" stroke-width="0.26" font-weight="normal" >150</text>
<text x="305.30" y="293.70" font-size="9.6" text-anchor="middle" fill="#222" stroke="#222" stroke-width="0.26" font-weight="bold" textLength="21.2" lengthAdjust="spacingAndGlyphs">Months</text>
<text transform="translate(235.10,234.10) rotate(-90)" font-size="9.6" text-anchor="middle" fill="#111" stroke="#111" stroke-width="0.3" font-weight="bold" textLength="43.6" lengthAdjust="spacingAndGlyphs">Overall survival</text>
<text x="227.70" y="196.30" font-size="12.4" text-anchor="start" fill="#000" stroke="#000" stroke-width="0.26" font-weight="bold" >D</text>
<text x="305.30" y="195.70" font-size="9.1" text-anchor="middle" fill="#222" stroke="#222" stroke-width="0.26" font-weight="normal" >Lymph node</text>
<text x="251.90" y="305.40" font-size="7.15" text-anchor="end" fill="#222" stroke="#222" stroke-width="0.26" font-weight="normal" >Number at risk</text>
<text x="251.90" y="315.70" font-size="7.15" text-anchor="end" fill="#222" stroke="#222" stroke-width="0.26" font-weight="normal" >CD47-high</text>
<text x="263.00" y="315.70" font-size="7.15" text-anchor="middle" fill="#222" stroke="#222" stroke-width="0.26" font-weight="normal" >6</text>
<text x="280.00" y="315.70" font-size="7.15" text-anchor="middle" fill="#222" stroke="#222" stroke-width="0.26" font-weight="normal" >4</text>
<text x="297.00" y="315.70" font-size="7.15" text-anchor="middle" fill="#222" stroke="#222" stroke-width="0.26" font-weight="normal" >2</text>
<text x="314.00" y="315.70" font-size="7.15" text-anchor="middle" fill="#222" stroke="#222" stroke-width="0.26" font-weight="normal" >0</text>
<text x="331.00" y="315.70" font-size="7.15" text-anchor="middle" fill="#222" stroke="#222" stroke-width="0.26" font-weight="normal" >0</text>
<text x="348.00" y="315.70" font-size="7.15" text-anchor="middle" fill="#222" stroke="#222" stroke-width="0.26" font-weight="normal" >0</text>
<text x="251.90" y="326.00" font-size="7.15" text-anchor="end" fill="#222" stroke="#222" stroke-width="0.26" font-weight="normal" >CD47-low</text>
<text x="263.00" y="326.00" font-size="7.15" text-anchor="middle" fill="#222" stroke="#222" stroke-width="0.26" font-weight="normal" >40</text>
<text x="280.00" y="326.00" font-size="7.15" text-anchor="middle" fill="#222" stroke="#222" stroke-width="0.26" font-weight="normal" >25</text>
<text x="297.00" y="326.00" font-size="7.15" text-anchor="middle" fill="#222" stroke="#222" stroke-width="0.26" font-weight="normal" >14</text>
<text x="314.00" y="326.00" font-size="7.15" text-anchor="middle" fill="#222" stroke="#222" stroke-width="0.26" font-weight="normal" >3</text>
<text x="331.00" y="326.00" font-size="7.15" text-anchor="middle" fill="#222" stroke="#222" stroke-width="0.26" font-weight="normal" >0</text>
<text x="348.00" y="326.00" font-size="7.15" text-anchor="middle" fill="#222" stroke="#222" stroke-width="0.26" font-weight="normal" >0</text>
<path d="M263.20,205.30 L263.20,208.30 L265.20,215.80 L271.00,219.30 L274.40,222.80 L279.00,224.50 L281.30,228.50 L286.50,230.80 L287.70,237.80 L316.50,237.80" fill="none" stroke="#1b4878" stroke-width="1.3" stroke-linejoin="miter"/>
<line x1="264.60" y1="211.55" x2="264.60" y2="215.55" stroke="#1b4878" stroke-width="1.0"/>
<line x1="286.50" y1="228.80" x2="286.50" y2="232.80" stroke="#1b4878" stroke-width="1.0"/>
<line x1="292.30" y1="235.80" x2="292.30" y2="239.80" stroke="#1b4878" stroke-width="1.0"/>
<line x1="295.20" y1="235.80" x2="295.20" y2="239.80" stroke="#1b4878" stroke-width="1.0"/>
<line x1="297.50" y1="235.80" x2="297.50" y2="239.80" stroke="#1b4878" stroke-width="1.0"/>
<line x1="300.40" y1="235.80" x2="300.40" y2="239.80" stroke="#1b4878" stroke-width="1.0"/>
<line x1="302.10" y1="235.80" x2="302.10" y2="239.80" stroke="#1b4878" stroke-width="1.0"/>
<line x1="303.80" y1="235.80" x2="303.80" y2="239.80" stroke="#1b4878" stroke-width="1.0"/>
<line x1="305.60" y1="235.80" x2="305.60" y2="239.80" stroke="#1b4878" stroke-width="1.0"/>
<line x1="311.30" y1="235.80" x2="311.30" y2="239.80" stroke="#1b4878" stroke-width="1.0"/>
<line x1="313.60" y1="235.80" x2="313.60" y2="239.80" stroke="#1b4878" stroke-width="1.0"/>
<line x1="316.50" y1="235.70" x2="316.50" y2="239.90" stroke="#1b4878" stroke-width="1.0"/>
<path d="M263.20,205.30 L274.10,205.30 L274.10,215.30 L280.50,215.30 L280.50,227.50 L311.90,227.50" fill="none" stroke="#c41f3e" stroke-width="1.3" stroke-linejoin="miter"/>
<line x1="293.50" y1="225.50" x2="293.50" y2="229.50" stroke="#c41f3e" stroke-width="1.0"/>
<line x1="297.50" y1="225.50" x2="297.50" y2="229.50" stroke="#c41f3e" stroke-width="1.0"/>
<line x1="311.90" y1="225.40" x2="311.90" y2="229.60" stroke="#c41f3e" stroke-width="1.0"/>
<text x="317.70" y="230.30" font-size="7" fill="#c8354f" stroke="#c8354f" stroke-width="0.1" textLength="32.5" lengthAdjust="spacingAndGlyphs">CD47-high</text>
<text x="321.70" y="240.30" font-size="7" fill="#2f5b8e" stroke="#2f5b8e" stroke-width="0.1" textLength="29.8" lengthAdjust="spacingAndGlyphs">CD47-low</text>
<text x="263.50" y="261.70" font-size="7" fill="#222" stroke="#222" stroke-width="0.1" textLength="25.9" lengthAdjust="spacingAndGlyphs">P =.454</text>
<line x1="420.20" y1="200.40" x2="420.20" y2="268.70" stroke="#1a1a1a" stroke-width="1.3"/>
<line x1="419.60" y1="268.10" x2="514.20" y2="268.10" stroke="#1a1a1a" stroke-width="1.3"/>
<line x1="417.20" y1="206.50" x2="420.20" y2="206.50" stroke="#1a1a1a" stroke-width="1.0"/>
<text x="414.20" y="209.25" font-size="7.6" text-anchor="end" fill="#222" stroke="#222" stroke-width="0.26" font-weight="normal" >1.0</text>
<line x1="417.20" y1="218.36" x2="420.20" y2="218.36" stroke="#1a1a1a" stroke-width="1.0"/>
<text x="414.20" y="221.11" font-size="7.6" text-anchor="end" fill="#222" stroke="#222" stroke-width="0.26" font-weight="normal" >0.8</text>
<line x1="417.20" y1="230.22" x2="420.20" y2="230.22" stroke="#1a1a1a" stroke-width="1.0"/>
<text x="414.20" y="232.97" font-size="7.6" text-anchor="end" fill="#222" stroke="#222" stroke-width="0.26" font-weight="normal" >0.6</text>
<line x1="417.20" y1="242.08" x2="420.20" y2="242.08" stroke="#1a1a1a" stroke-width="1.0"/>
<text x="414.20" y="244.83" font-size="7.6" text-anchor="end" fill="#222" stroke="#222" stroke-width="0.26" font-weight="normal" >0.4</text>
<line x1="417.20" y1="253.94" x2="420.20" y2="253.94" stroke="#1a1a1a" stroke-width="1.0"/>
<text x="414.20" y="256.69" font-size="7.6" text-anchor="end" fill="#222" stroke="#222" stroke-width="0.26" font-weight="normal" >0.2</text>
<line x1="417.20" y1="265.80" x2="420.20" y2="265.80" stroke="#1a1a1a" stroke-width="1.0"/>
<text x="414.20" y="268.55" font-size="7.6" text-anchor="end" fill="#222" stroke="#222" stroke-width="0.26" font-weight="normal" >0</text>
<line x1="424.90" y1="268.10" x2="424.90" y2="271.10" stroke="#1a1a1a" stroke-width="1.0"/>
<text x="425.30" y="280.40" font-size="7.8" text-anchor="middle" fill="#222" stroke="#222" stroke-width="0.26" font-weight="normal" >0</text>
<line x1="441.90" y1="268.10" x2="441.90" y2="271.10" stroke="#1a1a1a" stroke-width="1.0"/>
<text x="442.30" y="280.40" font-size="7.8" text-anchor="middle" fill="#222" stroke="#222" stroke-width="0.26" font-weight="normal" >30</text>
<line x1="458.90" y1="268.10" x2="458.90" y2="271.10" stroke="#1a1a1a" stroke-width="1.0"/>
<text x="459.30" y="280.40" font-size="7.8" text-anchor="middle" fill="#222" stroke="#222" stroke-width="0.26" font-weight="normal" >60</text>
<line x1="475.90" y1="268.10" x2="475.90" y2="271.10" stroke="#1a1a1a" stroke-width="1.0"/>
<text x="476.30" y="280.40" font-size="7.8" text-anchor="middle" fill="#222" stroke="#222" stroke-width="0.26" font-weight="normal" >90</text>
<line x1="492.90" y1="268.10" x2="492.90" y2="271.10" stroke="#1a1a1a" stroke-width="1.0"/>
<text x="493.30" y="280.40" font-size="7.8" text-anchor="middle" fill="#222" stroke="#222" stroke-width="0.26" font-weight="normal" >120</text>
<line x1="509.90" y1="268.10" x2="509.90" y2="271.10" stroke="#1a1a1a" stroke-width="1.0"/>
<text x="510.30" y="280.40" font-size="7.8" text-anchor="middle" fill="#222" stroke="#222" stroke-width="0.26" font-weight="normal" >150</text>
<text x="467.20" y="293.70" font-size="9.6" text-anchor="middle" fill="#222" stroke="#222" stroke-width="0.26" font-weight="bold" textLength="21.2" lengthAdjust="spacingAndGlyphs">Months</text>
<text transform="translate(397.00,234.10) rotate(-90)" font-size="9.6" text-anchor="middle" fill="#111" stroke="#111" stroke-width="0.3" font-weight="bold" textLength="43.6" lengthAdjust="spacingAndGlyphs">Overall survival</text>
<text x="390.00" y="196.30" font-size="12.4" text-anchor="start" fill="#000" stroke="#000" stroke-width="0.26" font-weight="bold" >E</text>
<text x="467.20" y="195.70" font-size="9.1" text-anchor="middle" fill="#222" stroke="#222" stroke-width="0.26" font-weight="normal" >Extranodal/Non-intestinal</text>
<text x="413.80" y="305.40" font-size="7.15" text-anchor="end" fill="#222" stroke="#222" stroke-width="0.26" font-weight="normal" >Number at risk</text>
<text x="413.80" y="315.70" font-size="7.15" text-anchor="end" fill="#222" stroke="#222" stroke-width="0.26" font-weight="normal" >CD47-low</text>
<text x="424.90" y="315.70" font-size="7.15" text-anchor="middle" fill="#222" stroke="#222" stroke-width="0.26" font-weight="normal" >52</text>
<text x="441.90" y="315.70" font-size="7.15" text-anchor="middle" fill="#222" stroke="#222" stroke-width="0.26" font-weight="normal" >35</text>
<text x="458.90" y="315.70" font-size="7.15" text-anchor="middle" fill="#222" stroke="#222" stroke-width="0.26" font-weight="normal" >16</text>
<text x="475.90" y="315.70" font-size="7.15" text-anchor="middle" fill="#222" stroke="#222" stroke-width="0.26" font-weight="normal" >2</text>
<text x="492.90" y="315.70" font-size="7.15" text-anchor="middle" fill="#222" stroke="#222" stroke-width="0.26" font-weight="normal" >0</text>
<text x="509.90" y="315.70" font-size="7.15" text-anchor="middle" fill="#222" stroke="#222" stroke-width="0.26" font-weight="normal" >0</text>
<text x="413.80" y="326.00" font-size="7.15" text-anchor="end" fill="#222" stroke="#222" stroke-width="0.26" font-weight="normal" >CD47-high</text>
<text x="424.90" y="326.00" font-size="7.15" text-anchor="middle" fill="#222" stroke="#222" stroke-width="0.26" font-weight="normal" >8</text>
<text x="441.90" y="326.00" font-size="7.15" text-anchor="middle" fill="#222" stroke="#222" stroke-width="0.26" font-weight="normal" >2</text>
<text x="458.90" y="326.00" font-size="7.15" text-anchor="middle" fill="#222" stroke="#222" stroke-width="0.26" font-weight="normal" >0</text>
<text x="475.90" y="326.00" font-size="7.15" text-anchor="middle" fill="#222" stroke="#222" stroke-width="0.26" font-weight="normal" >0</text>
<text x="492.90" y="326.00" font-size="7.15" text-anchor="middle" fill="#222" stroke="#222" stroke-width="0.26" font-weight="normal" >0</text>
<text x="509.90" y="326.00" font-size="7.15" text-anchor="middle" fill="#222" stroke="#222" stroke-width="0.26" font-weight="normal" >0</text>
<path d="M425.40,205.40 L426.30,219.80 L428.70,219.80 L428.70,235.00 L432.00,235.00 L432.00,241.90 L441.30,241.90 L441.30,256.60 L458.30,256.60" fill="none" stroke="#5c2d70" stroke-width="1.3" stroke-linejoin="miter"/>
<line x1="458.30" y1="254.50" x2="458.30" y2="258.70" stroke="#5c2d70" stroke-width="1.0"/>
<path d="M425.40,205.40 L425.70,209.70 L426.80,212.60 L431.60,217.40 L437.40,222.70 L443.20,226.50 L449.90,228.90 L455.40,231.80 L463.00,234.60 L465.40,238.90 L486.20,238.90" fill="none" stroke="#1b4878" stroke-width="1.3" stroke-linejoin="miter"/>
<line x1="440.00" y1="222.40" x2="440.00" y2="226.40" stroke="#1b4878" stroke-width="1.0"/>
<line x1="447.00" y1="225.86" x2="447.00" y2="229.86" stroke="#1b4878" stroke-width="1.0"/>
<line x1="450.00" y1="226.95" x2="450.00" y2="230.95" stroke="#1b4878" stroke-width="1.0"/>
<line x1="452.00" y1="228.01" x2="452.00" y2="232.01" stroke="#1b4878" stroke-width="1.0"/>
<line x1="455.00" y1="229.59" x2="455.00" y2="233.59" stroke="#1b4878" stroke-width="1.0"/>
<line x1="458.00" y1="230.76" x2="458.00" y2="234.76" stroke="#1b4878" stroke-width="1.0"/>
<line x1="461.00" y1="231.86" x2="461.00" y2="235.86" stroke="#1b4878" stroke-width="1.0"/>
<line x1="463.00" y1="232.60" x2="463.00" y2="236.60" stroke="#1b4878" stroke-width="1.0"/>
<line x1="470.00" y1="236.90" x2="470.00" y2="240.90" stroke="#1b4878" stroke-width="1.0"/>
<line x1="480.80" y1="236.90" x2="480.80" y2="240.90" stroke="#1b4878" stroke-width="1.0"/>
<line x1="486.20" y1="236.80" x2="486.20" y2="241.00" stroke="#1b4878" stroke-width="1.0"/>
<text x="473.10" y="220.20" font-size="7" fill="#222" stroke="#222" stroke-width="0.1" textLength="23.1" lengthAdjust="spacingAndGlyphs">P=.005</text>
<text x="490.00" y="241.90" font-size="7" fill="#2f5b8e" stroke="#2f5b8e" stroke-width="0.1" textLength="29.8" lengthAdjust="spacingAndGlyphs">CD47-low</text>
<text x="461.50" y="258.70" font-size="7" fill="#6a4585" stroke="#6a4585" stroke-width="0.1" textLength="32.3" lengthAdjust="spacingAndGlyphs">CD47-high</text>
<line x1="73.80" y1="383.30" x2="73.80" y2="451.60" stroke="#1a1a1a" stroke-width="1.3"/>
<line x1="73.20" y1="451.00" x2="167.80" y2="451.00" stroke="#1a1a1a" stroke-width="1.3"/>
<line x1="70.80" y1="389.40" x2="73.80" y2="389.40" stroke="#1a1a1a" stroke-width="1.0"/>
<text x="67.80" y="392.15" font-size="7.6" text-anchor="end" fill="#222" stroke="#222" stroke-width="0.26" font-weight="normal" >1.0</text>
<line x1="70.80" y1="401.26" x2="73.80" y2="401.26" stroke="#1a1a1a" stroke-width="1.0"/>
<text x="67.80" y="404.01" font-size="7.6" text-anchor="end" fill="#222" stroke="#222" stroke-width="0.26" font-weight="normal" >0.8</text>
<line x1="70.80" y1="413.12" x2="73.80" y2="413.12" stroke="#1a1a1a" stroke-width="1.0"/>
<text x="67.80" y="415.87" font-size="7.6" text-anchor="end" fill="#222" stroke="#222" stroke-width="0.26" font-weight="normal" >0.6</text>
<line x1="70.80" y1="424.98" x2="73.80" y2="424.98" stroke="#1a1a1a" stroke-width="1.0"/>
<text x="67.80" y="427.73" font-size="7.6" text-anchor="end" fill="#222" stroke="#222" stroke-width="0.26" font-weight="normal" >0.4</text>
<line x1="70.80" y1="436.84" x2="73.80" y2="436.84" stroke="#1a1a1a" stroke-width="1.0"/>
<text x="67.80" y="439.59" font-size="7.6" text-anchor="end" fill="#222" stroke="#222" stroke-width="0.26" font-weight="normal" >0.2</text>
<line x1="70.80" y1="448.70" x2="73.80" y2="448.70" stroke="#1a1a1a" stroke-width="1.0"/>
<text x="67.80" y="451.45" font-size="7.6" text-anchor="end" fill="#222" stroke="#222" stroke-width="0.26" font-weight="normal" >0</text>
<line x1="78.50" y1="451.00" x2="78.50" y2="454.00" stroke="#1a1a1a" stroke-width="1.0"/>
<text x="78.90" y="463.30" font-size="7.8" text-anchor="middle" fill="#222" stroke="#222" stroke-width="0.26" font-weight="normal" >0</text>
<line x1="95.50" y1="451.00" x2="95.50" y2="454.00" stroke="#1a1a1a" stroke-width="1.0"/>
<text x="95.90" y="463.30" font-size="7.8" text-anchor="middle" fill="#222" stroke="#222" stroke-width="0.26" font-weight="normal" >60</text>
<line x1="112.50" y1="451.00" x2="112.50" y2="454.00" stroke="#1a1a1a" stroke-width="1.0"/>
<text x="112.90" y="463.30" font-size="7.8" text-anchor="middle" fill="#222" stroke="#222" stroke-width="0.26" font-weight="normal" >120</text>
<line x1="129.50" y1="451.00" x2="129.50" y2="454.00" stroke="#1a1a1a" stroke-width="1.0"/>
<text x="129.90" y="463.30" font-size="7.8" text-anchor="middle" fill="#222" stroke="#222" stroke-width="0.26" font-weight="normal" >180</text>
<line x1="146.50" y1="451.00" x2="146.50" y2="454.00" stroke="#1a1a1a" stroke-width="1.0"/>
<text x="146.90" y="463.30" font-size="7.8" text-anchor="middle" fill="#222" stroke="#222" stroke-width="0.26" font-weight="normal" >240</text>
<line x1="163.50" y1="451.00" x2="163.50" y2="454.00" stroke="#1a1a1a" stroke-width="1.0"/>
<text x="163.90" y="463.30" font-size="7.8" text-anchor="middle" fill="#222" stroke="#222" stroke-width="0.26" font-weight="normal" >300</text>
<text x="120.80" y="476.60" font-size="9.6" text-anchor="middle" fill="#222" stroke="#222" stroke-width="0.26" font-weight="bold" textLength="21.2" lengthAdjust="spacingAndGlyphs">Months</text>
<text transform="translate(50.60,417.00) rotate(-90)" font-size="9.6" text-anchor="middle" fill="#111" stroke="#111" stroke-width="0.3" font-weight="bold" textLength="43.6" lengthAdjust="spacingAndGlyphs">Overall survival</text>
<text x="0.50" y="379.70" font-size="12.4" text-anchor="start" fill="#000" stroke="#000" stroke-width="0.26" font-weight="bold" >F</text>
<text x="67.40" y="488.30" font-size="7.15" text-anchor="end" fill="#222" stroke="#222" stroke-width="0.26" font-weight="normal" >Number at risk</text>
<text x="67.40" y="498.60" font-size="7.15" text-anchor="end" fill="#222" stroke="#222" stroke-width="0.26" font-weight="normal" >CD47-high</text>
<text x="78.50" y="498.60" font-size="7.15" text-anchor="middle" fill="#222" stroke="#222" stroke-width="0.26" font-weight="normal" >21</text>
<text x="95.50" y="498.60" font-size="7.15" text-anchor="middle" fill="#222" stroke="#222" stroke-width="0.26" font-weight="normal" >13</text>
<text x="112.50" y="498.60" font-size="7.15" text-anchor="middle" fill="#222" stroke="#222" stroke-width="0.26" font-weight="normal" >11</text>
<text x="129.50" y="498.60" font-size="7.15" text-anchor="middle" fill="#222" stroke="#222" stroke-width="0.26" font-weight="normal" >6</text>
<text x="146.50" y="498.60" font-size="7.15" text-anchor="middle" fill="#222" stroke="#222" stroke-width="0.26" font-weight="normal" >2</text>
<text x="163.50" y="498.60" font-size="7.15" text-anchor="middle" fill="#222" stroke="#222" stroke-width="0.26" font-weight="normal" >0</text>
<text x="67.40" y="508.90" font-size="7.15" text-anchor="end" fill="#222" stroke="#222" stroke-width="0.26" font-weight="normal" >CD47-low</text>
<text x="78.50" y="508.90" font-size="7.15" text-anchor="middle" fill="#222" stroke="#222" stroke-width="0.26" font-weight="normal" >132</text>
<text x="95.50" y="508.90" font-size="7.15" text-anchor="middle" fill="#222" stroke="#222" stroke-width="0.26" font-weight="normal" >82</text>
<text x="112.50" y="508.90" font-size="7.15" text-anchor="middle" fill="#222" stroke="#222" stroke-width="0.26" font-weight="normal" >57</text>
<text x="129.50" y="508.90" font-size="7.15" text-anchor="middle" fill="#222" stroke="#222" stroke-width="0.26" font-weight="normal" >20</text>
<text x="146.50" y="508.90" font-size="7.15" text-anchor="middle" fill="#222" stroke="#222" stroke-width="0.26" font-weight="normal" >6</text>
<text x="163.50" y="508.90" font-size="7.15" text-anchor="middle" fill="#222" stroke="#222" stroke-width="0.26" font-weight="normal" >0</text>
<path d="M78.30,384.80 L78.40,386.00 L79.80,390.30 L82.70,393.60 L85.60,397.00 L88.50,399.90 L92.30,402.30 L96.20,404.20 L122.10,404.20 L122.10,409.40 L131.30,409.40 L131.30,415.50 L154.40,415.50" fill="none" stroke="#c41f3e" stroke-width="1.3" stroke-linejoin="miter"/>
<line x1="83.00" y1="391.95" x2="83.00" y2="395.95" stroke="#c41f3e" stroke-width="1.0"/>
<line x1="87.00" y1="396.40" x2="87.00" y2="400.40" stroke="#c41f3e" stroke-width="1.0"/>
<line x1="91.00" y1="399.48" x2="91.00" y2="403.48" stroke="#c41f3e" stroke-width="1.0"/>
<line x1="120.10" y1="402.20" x2="120.10" y2="406.20" stroke="#c41f3e" stroke-width="1.0"/>
<line x1="136.00" y1="413.50" x2="136.00" y2="417.50" stroke="#c41f3e" stroke-width="1.0"/>
<line x1="138.30" y1="413.50" x2="138.30" y2="417.50" stroke="#c41f3e" stroke-width="1.0"/>
<line x1="148.60" y1="413.50" x2="148.60" y2="417.50" stroke="#c41f3e" stroke-width="1.0"/>
<line x1="154.40" y1="413.40" x2="154.40" y2="417.60" stroke="#c41f3e" stroke-width="1.0"/>
<path d="M78.30,384.80 L78.40,386.00 L79.80,390.30 L82.70,393.60 L85.60,397.00 L88.50,399.90 L92.30,402.30 L96.20,404.20 L101.00,405.60 L109.70,406.60 L116.90,407.70 L123.80,412.30 L130.80,417.50 L134.80,419.80 L137.10,422.70 L148.10,422.70 L148.10,426.70 L162.50,426.70" fill="none" stroke="#1b4878" stroke-width="1.5" stroke-linejoin="miter"/>
<line x1="84.00" y1="393.12" x2="84.00" y2="397.12" stroke="#1b4878" stroke-width="1.0"/>
<line x1="90.00" y1="398.85" x2="90.00" y2="402.85" stroke="#1b4878" stroke-width="1.0"/>
<line x1="99.00" y1="403.02" x2="99.00" y2="407.02" stroke="#1b4878" stroke-width="1.0"/>
<line x1="103.00" y1="403.83" x2="103.00" y2="407.83" stroke="#1b4878" stroke-width="1.0"/>
<line x1="106.00" y1="404.17" x2="106.00" y2="408.17" stroke="#1b4878" stroke-width="1.0"/>
<line x1="108.00" y1="404.40" x2="108.00" y2="408.40" stroke="#1b4878" stroke-width="1.0"/>
<line x1="111.00" y1="404.80" x2="111.00" y2="408.80" stroke="#1b4878" stroke-width="1.0"/>
<line x1="113.00" y1="405.10" x2="113.00" y2="409.10" stroke="#1b4878" stroke-width="1.0"/>
<line x1="115.00" y1="405.41" x2="115.00" y2="409.41" stroke="#1b4878" stroke-width="1.0"/>
<line x1="118.00" y1="406.43" x2="118.00" y2="410.43" stroke="#1b4878" stroke-width="1.0"/>
<line x1="120.00" y1="407.77" x2="120.00" y2="411.77" stroke="#1b4878" stroke-width="1.0"/>
<line x1="122.00" y1="409.10" x2="122.00" y2="413.10" stroke="#1b4878" stroke-width="1.0"/>
<line x1="125.00" y1="411.19" x2="125.00" y2="415.19" stroke="#1b4878" stroke-width="1.0"/>
<line x1="127.00" y1="412.68" x2="127.00" y2="416.68" stroke="#1b4878" stroke-width="1.0"/>
<line x1="129.00" y1="414.16" x2="129.00" y2="418.16" stroke="#1b4878" stroke-width="1.0"/>
<line x1="132.00" y1="416.19" x2="132.00" y2="420.19" stroke="#1b4878" stroke-width="1.0"/>
<line x1="141.10" y1="420.70" x2="141.10" y2="424.70" stroke="#1b4878" stroke-width="1.0"/>
<line x1="143.40" y1="420.70" x2="143.40" y2="424.70" stroke="#1b4878" stroke-width="1.0"/>
<line x1="145.20" y1="420.70" x2="145.20" y2="424.70" stroke="#1b4878" stroke-width="1.0"/>
<line x1="147.50" y1="420.70" x2="147.50" y2="424.70" stroke="#1b4878" stroke-width="1.0"/>
<line x1="153.30" y1="424.70" x2="153.30" y2="428.70" stroke="#1b4878" stroke-width="1.0"/>
<line x1="162.50" y1="424.60" x2="162.50" y2="428.80" stroke="#1b4878" stroke-width="1.0"/>
<path d="M98.00,404.80 L101.00,405.60 L109.70,406.60 L116.90,407.70 L123.80,412.30 L130.80,417.50 L134.80,419.80" fill="none" stroke="#1b4878" stroke-width="2.0" stroke-linejoin="miter"/>
<path d="M78.30,384.80 L78.40,386.00 L79.80,390.30 L82.70,393.60 L85.60,397.00 L88.50,399.90 L92.30,402.30 L96.20,404.20" fill="none" stroke="#c41f3e" stroke-width="1.4" stroke-linejoin="miter"/>
<line x1="83.00" y1="391.95" x2="83.00" y2="395.95" stroke="#c41f3e" stroke-width="1.0"/>
<line x1="87.00" y1="396.40" x2="87.00" y2="400.40" stroke="#c41f3e" stroke-width="1.0"/>
<line x1="91.00" y1="399.48" x2="91.00" y2="403.48" stroke="#c41f3e" stroke-width="1.0"/>
<path d="M78.30,384.00 L78.60,389.50 L79.60,391.00" fill="none" stroke="#1b4878" stroke-width="2.4" stroke-linejoin="miter"/>
<text x="141.10" y="410.50" font-size="7" fill="#c8354f" stroke="#c8354f" stroke-width="0.1" textLength="32.8" lengthAdjust="spacingAndGlyphs">CD47-high</text>
<text x="146.00" y="437.50" font-size="7" fill="#2f5b8e" stroke="#2f5b8e" stroke-width="0.1" textLength="29.8" lengthAdjust="spacingAndGlyphs">CD47-low</text>
<text x="79.00" y="446.20" font-size="7" fill="#222" stroke="#222" stroke-width="0.1" textLength="23.7" lengthAdjust="spacingAndGlyphs">P=.541</text>
<line x1="333.40" y1="383.30" x2="333.40" y2="451.60" stroke="#1a1a1a" stroke-width="1.3"/>
<line x1="332.80" y1="451.00" x2="427.40" y2="451.00" stroke="#1a1a1a" stroke-width="1.3"/>
<line x1="330.40" y1="389.40" x2="333.40" y2="389.40" stroke="#1a1a1a" stroke-width="1.0"/>
<text x="327.40" y="392.15" font-size="7.6" text-anchor="end" fill="#222" stroke="#222" stroke-width="0.26" font-weight="normal" >1.0</text>
<line x1="330.40" y1="401.26" x2="333.40" y2="401.26" stroke="#1a1a1a" stroke-width="1.0"/>
<text x="327.40" y="404.01" font-size="7.6" text-anchor="end" fill="#222" stroke="#222" stroke-width="0.26" font-weight="normal" >0.8</text>
<line x1="330.40" y1="413.12" x2="333.40" y2="413.12" stroke="#1a1a1a" stroke-width="1.0"/>
<text x="327.40" y="415.87" font-size="7.6" text-anchor="end" fill="#222" stroke="#222" stroke-width="0.26" font-weight="normal" >0.6</text>
<line x1="330.40" y1="424.98" x2="333.40" y2="424.98" stroke="#1a1a1a" stroke-width="1.0"/>
<text x="327.40" y="427.73" font-size="7.6" text-anchor="end" fill="#222" stroke="#222" stroke-width="0.26" font-weight="normal" >0.4</text>
<line x1="330.40" y1="436.84" x2="333.40" y2="436.84" stroke="#1a1a1a" stroke-width="1.0"/>
<text x="327.40" y="439.59" font-size="7.6" text-anchor="end" fill="#222" stroke="#222" stroke-width="0.26" font-weight="normal" >0.2</text>
<line x1="330.40" y1="448.70" x2="333.40" y2="448.70" stroke="#1a1a1a" stroke-width="1.0"/>
<text x="327.40" y="451.45" font-size="7.6" text-anchor="end" fill="#222" stroke="#222" stroke-width="0.26" font-weight="normal" >0</text>
<line x1="338.10" y1="451.00" x2="338.10" y2="454.00" stroke="#1a1a1a" stroke-width="1.0"/>
<text x="338.50" y="463.30" font-size="7.8" text-anchor="middle" fill="#222" stroke="#222" stroke-width="0.26" font-weight="normal" >0</text>
<line x1="355.10" y1="451.00" x2="355.10" y2="454.00" stroke="#1a1a1a" stroke-width="1.0"/>
<text x="355.50" y="463.30" font-size="7.8" text-anchor="middle" fill="#222" stroke="#222" stroke-width="0.26" font-weight="normal" >60</text>
<line x1="372.10" y1="451.00" x2="372.10" y2="454.00" stroke="#1a1a1a" stroke-width="1.0"/>
<text x="372.50" y="463.30" font-size="7.8" text-anchor="middle" fill="#222" stroke="#222" stroke-width="0.26" font-weight="normal" >120</text>
<line x1="389.10" y1="451.00" x2="389.10" y2="454.00" stroke="#1a1a1a" stroke-width="1.0"/>
<text x="389.50" y="463.30" font-size="7.8" text-anchor="middle" fill="#222" stroke="#222" stroke-width="0.26" font-weight="normal" >180</text>
<line x1="406.10" y1="451.00" x2="406.10" y2="454.00" stroke="#1a1a1a" stroke-width="1.0"/>
<text x="406.50" y="463.30" font-size="7.8" text-anchor="middle" fill="#222" stroke="#222" stroke-width="0.26" font-weight="normal" >240</text>
<line x1="423.10" y1="451.00" x2="423.10" y2="454.00" stroke="#1a1a1a" stroke-width="1.0"/>
<text x="423.50" y="463.30" font-size="7.8" text-anchor="middle" fill="#222" stroke="#222" stroke-width="0.26" font-weight="normal" >300</text>
<text x="380.40" y="476.60" font-size="9.6" text-anchor="middle" fill="#222" stroke="#222" stroke-width="0.26" font-weight="bold" textLength="21.2" lengthAdjust="spacingAndGlyphs">Months</text>
<text transform="translate(310.20,417.00) rotate(-90)" font-size="9.6" text-anchor="middle" fill="#111" stroke="#111" stroke-width="0.3" font-weight="bold" textLength="43.6" lengthAdjust="spacingAndGlyphs">Overall survival</text>
<text x="302.20" y="379.70" font-size="12.4" text-anchor="start" fill="#000" stroke="#000" stroke-width="0.26" font-weight="bold" >G</text>
<text x="327.00" y="488.30" font-size="7.15" text-anchor="end" fill="#222" stroke="#222" stroke-width="0.26" font-weight="normal" >Number at risk</text>
<text x="327.00" y="498.60" font-size="7.15" text-anchor="end" fill="#222" stroke="#222" stroke-width="0.26" font-weight="normal" >CD47-high (intestine)</text>
<text x="338.10" y="498.60" font-size="7.15" text-anchor="middle" fill="#222" stroke="#222" stroke-width="0.26" font-weight="normal" >12</text>
<text x="355.10" y="498.60" font-size="7.15" text-anchor="middle" fill="#222" stroke="#222" stroke-width="0.26" font-weight="normal" >9</text>
<text x="372.10" y="498.60" font-size="7.15" text-anchor="middle" fill="#222" stroke="#222" stroke-width="0.26" font-weight="normal" >8</text>
<text x="389.10" y="498.60" font-size="7.15" text-anchor="middle" fill="#222" stroke="#222" stroke-width="0.26" font-weight="normal" >5</text>
<text x="406.10" y="498.60" font-size="7.15" text-anchor="middle" fill="#222" stroke="#222" stroke-width="0.26" font-weight="normal" >2</text>
<text x="423.10" y="498.60" font-size="7.15" text-anchor="middle" fill="#222" stroke="#222" stroke-width="0.26" font-weight="normal" >0</text>
<text x="327.00" y="508.90" font-size="7.15" text-anchor="end" fill="#222" stroke="#222" stroke-width="0.26" font-weight="normal" >CD47-low</text>
<text x="338.10" y="508.90" font-size="7.15" text-anchor="middle" fill="#222" stroke="#222" stroke-width="0.26" font-weight="normal" >132</text>
<text x="355.10" y="508.90" font-size="7.15" text-anchor="middle" fill="#222" stroke="#222" stroke-width="0.26" font-weight="normal" >82</text>
<text x="372.10" y="508.90" font-size="7.15" text-anchor="middle" fill="#222" stroke="#222" stroke-width="0.26" font-weight="normal" >57</text>
<text x="389.10" y="508.90" font-size="7.15" text-anchor="middle" fill="#222" stroke="#222" stroke-width="0.26" font-weight="normal" >20</text>
<text x="406.10" y="508.90" font-size="7.15" text-anchor="middle" fill="#222" stroke="#222" stroke-width="0.26" font-weight="normal" >6</text>
<text x="423.10" y="508.90" font-size="7.15" text-anchor="middle" fill="#222" stroke="#222" stroke-width="0.26" font-weight="normal" >0</text>
<text x="327.00" y="519.20" font-size="7.15" text-anchor="end" fill="#222" stroke="#222" stroke-width="0.26" font-weight="normal" >CD47-high (non-intestine)</text>
<text x="338.10" y="519.20" font-size="7.15" text-anchor="middle" fill="#222" stroke="#222" stroke-width="0.26" font-weight="normal" >9</text>
<text x="355.10" y="519.20" font-size="7.15" text-anchor="middle" fill="#222" stroke="#222" stroke-width="0.26" font-weight="normal" >4</text>
<text x="372.10" y="519.20" font-size="7.15" text-anchor="middle" fill="#222" stroke="#222" stroke-width="0.26" font-weight="normal" >3</text>
<text x="389.10" y="519.20" font-size="7.15" text-anchor="middle" fill="#222" stroke="#222" stroke-width="0.26" font-weight="normal" >1</text>
<text x="406.10" y="519.20" font-size="7.15" text-anchor="middle" fill="#222" stroke="#222" stroke-width="0.26" font-weight="normal" >0</text>
<text x="423.10" y="519.20" font-size="7.15" text-anchor="middle" fill="#222" stroke="#222" stroke-width="0.26" font-weight="normal" >0</text>
<path d="M337.90,385.90 L342.20,394.60 L342.20,397.50 L344.10,397.50 L344.10,405.60 L347.00,405.60 L347.00,412.40 L351.80,412.40 L351.80,419.70 L390.50,419.70 L390.50,446.00" fill="none" stroke="#5c2d70" stroke-width="1.3" stroke-linejoin="miter"/>
<line x1="356.60" y1="417.70" x2="356.60" y2="421.70" stroke="#5c2d70" stroke-width="1.0"/>
<line x1="379.20" y1="417.70" x2="379.20" y2="421.70" stroke="#5c2d70" stroke-width="1.0"/>
<line x1="383.70" y1="417.70" x2="383.70" y2="421.70" stroke="#5c2d70" stroke-width="1.0"/>
<path d="M337.90,385.50 L339.30,390.30 L342.70,393.60 L345.60,397.50 L351.30,401.80 L358.10,404.90 L363.80,406.40 L370.40,407.50 L375.40,409.00 L380.40,410.70 L387.30,414.50 L390.00,416.20 L392.50,417.70 L395.90,422.40 L407.30,422.40 L407.30,426.40 L420.80,426.40" fill="none" stroke="#1b4878" stroke-width="1.5" stroke-linejoin="miter"/>
<line x1="340.00" y1="388.98" x2="340.00" y2="392.98" stroke="#1b4878" stroke-width="1.0"/>
<line x1="343.00" y1="392.00" x2="343.00" y2="396.00" stroke="#1b4878" stroke-width="1.0"/>
<line x1="346.00" y1="395.80" x2="346.00" y2="399.80" stroke="#1b4878" stroke-width="1.0"/>
<line x1="349.00" y1="398.06" x2="349.00" y2="402.06" stroke="#1b4878" stroke-width="1.0"/>
<line x1="352.00" y1="400.12" x2="352.00" y2="404.12" stroke="#1b4878" stroke-width="1.0"/>
<line x1="356.00" y1="401.94" x2="356.00" y2="405.94" stroke="#1b4878" stroke-width="1.0"/>
<line x1="360.00" y1="403.40" x2="360.00" y2="407.40" stroke="#1b4878" stroke-width="1.0"/>
<line x1="362.00" y1="403.93" x2="362.00" y2="407.93" stroke="#1b4878" stroke-width="1.0"/>
<line x1="364.00" y1="404.43" x2="364.00" y2="408.43" stroke="#1b4878" stroke-width="1.0"/>
<line x1="366.00" y1="404.77" x2="366.00" y2="408.77" stroke="#1b4878" stroke-width="1.0"/>
<line x1="368.00" y1="405.10" x2="368.00" y2="409.10" stroke="#1b4878" stroke-width="1.0"/>
<line x1="370.00" y1="405.43" x2="370.00" y2="409.43" stroke="#1b4878" stroke-width="1.0"/>
<line x1="372.00" y1="405.98" x2="372.00" y2="409.98" stroke="#1b4878" stroke-width="1.0"/>
<line x1="374.00" y1="406.58" x2="374.00" y2="410.58" stroke="#1b4878" stroke-width="1.0"/>
<line x1="376.00" y1="407.20" x2="376.00" y2="411.20" stroke="#1b4878" stroke-width="1.0"/>
<line x1="378.00" y1="407.88" x2="378.00" y2="411.88" stroke="#1b4878" stroke-width="1.0"/>
<line x1="380.00" y1="408.56" x2="380.00" y2="412.56" stroke="#1b4878" stroke-width="1.0"/>
<line x1="382.00" y1="409.58" x2="382.00" y2="413.58" stroke="#1b4878" stroke-width="1.0"/>
<line x1="384.00" y1="410.68" x2="384.00" y2="414.68" stroke="#1b4878" stroke-width="1.0"/>
<line x1="386.00" y1="411.78" x2="386.00" y2="415.78" stroke="#1b4878" stroke-width="1.0"/>
<line x1="388.00" y1="412.94" x2="388.00" y2="416.94" stroke="#1b4878" stroke-width="1.0"/>
<line x1="390.00" y1="414.20" x2="390.00" y2="418.20" stroke="#1b4878" stroke-width="1.0"/>
<line x1="399.90" y1="420.40" x2="399.90" y2="424.40" stroke="#1b4878" stroke-width="1.0"/>
<line x1="401.90" y1="420.40" x2="401.90" y2="424.40" stroke="#1b4878" stroke-width="1.0"/>
<line x1="403.90" y1="420.40" x2="403.90" y2="424.40" stroke="#1b4878" stroke-width="1.0"/>
<line x1="412.70" y1="424.40" x2="412.70" y2="428.40" stroke="#1b4878" stroke-width="1.0"/>
<line x1="420.80" y1="424.30" x2="420.80" y2="428.50" stroke="#1b4878" stroke-width="1.0"/>
<path d="M352.00,402.20 L358.10,404.90 L363.80,406.40 L370.40,407.50 L375.40,409.00 L380.40,410.70 L387.30,414.50 L390.00,416.20" fill="none" stroke="#1b4878" stroke-width="2.3" stroke-linejoin="miter"/>
<path d="M337.90,385.90 L339.80,390.70 L381.10,390.70 L381.10,398.80 L414.00,398.80" fill="none" stroke="#f09a1c" stroke-width="1.3" stroke-linejoin="miter"/>
<line x1="347.00" y1="388.70" x2="347.00" y2="392.70" stroke="#f09a1c" stroke-width="1.0"/>
<line x1="356.90" y1="388.70" x2="356.90" y2="392.70" stroke="#f09a1c" stroke-width="1.0"/>
<line x1="378.80" y1="388.70" x2="378.80" y2="392.70" stroke="#f09a1c" stroke-width="1.0"/>
<line x1="395.90" y1="396.80" x2="395.90" y2="400.80" stroke="#f09a1c" stroke-width="1.0"/>
<line x1="398.60" y1="396.80" x2="398.60" y2="400.80" stroke="#f09a1c" stroke-width="1.0"/>
<line x1="407.30" y1="396.80" x2="407.30" y2="400.80" stroke="#f09a1c" stroke-width="1.0"/>
<line x1="410.70" y1="396.80" x2="410.70" y2="400.80" stroke="#f09a1c" stroke-width="1.0"/>
<line x1="414.00" y1="396.70" x2="414.00" y2="400.90" stroke="#f09a1c" stroke-width="1.0"/>
<path d="M337.60,384.00 L338.00,389.50 L339.00,391.00" fill="none" stroke="#1b4878" stroke-width="2.4" stroke-linejoin="miter"/>
<text x="392.80" y="384.50" font-size="7" fill="#f0a53c" stroke="#f0a53c" stroke-width="0.1" textLength="32.8" lengthAdjust="spacingAndGlyphs">CD47-high</text>
<text x="395.20" y="393.50" font-size="7" fill="#f0a53c" stroke="#f0a53c" stroke-width="0.1" textLength="27.6" lengthAdjust="spacingAndGlyphs">(intestine)</text>
<text x="397.20" y="416.00" font-size="7" fill="#2f5b8e" stroke="#2f5b8e" stroke-width="0.1" textLength="29.6" lengthAdjust="spacingAndGlyphs">CD47-low</text>
<text x="399.00" y="439.70" font-size="7" fill="#6a4585" stroke="#6a4585" stroke-width="0.1" textLength="31.9" lengthAdjust="spacingAndGlyphs">CD47-high</text>
<text x="393.80" y="448.00" font-size="7" fill="#6a4585" stroke="#6a4585" stroke-width="0.1" textLength="40.4" lengthAdjust="spacingAndGlyphs">(non-intestine)</text>
<text x="448.80" y="424.80" font-size="7" fill="#222" stroke="#222" stroke-width="0.1" textLength="23.6" lengthAdjust="spacingAndGlyphs">P=.017</text>
<path d="M440.10,398.70H445.50V446.30H440.10" fill="none" stroke="#2a2a2a" stroke-width="1.2"/>
<text x="338.00" y="446.20" font-size="7" fill="#222" stroke="#222" stroke-width="0.1" textLength="24.7" lengthAdjust="spacingAndGlyphs">P=.050</text>
<line x1="73.80" y1="548.70" x2="73.80" y2="617.00" stroke="#1a1a1a" stroke-width="1.3"/>
<line x1="73.20" y1="616.40" x2="167.80" y2="616.40" stroke="#1a1a1a" stroke-width="1.3"/>
<line x1="70.80" y1="554.80" x2="73.80" y2="554.80" stroke="#1a1a1a" stroke-width="1.0"/>
<text x="67.80" y="557.55" font-size="7.6" text-anchor="end" fill="#222" stroke="#222" stroke-width="0.26" font-weight="normal" >1.0</text>
<line x1="70.80" y1="566.66" x2="73.80" y2="566.66" stroke="#1a1a1a" stroke-width="1.0"/>
<text x="67.80" y="569.41" font-size="7.6" text-anchor="end" fill="#222" stroke="#222" stroke-width="0.26" font-weight="normal" >0.8</text>
<line x1="70.80" y1="578.52" x2="73.80" y2="578.52" stroke="#1a1a1a" stroke-width="1.0"/>
<text x="67.80" y="581.27" font-size="7.6" text-anchor="end" fill="#222" stroke="#222" stroke-width="0.26" font-weight="normal" >0.6</text>
<line x1="70.80" y1="590.38" x2="73.80" y2="590.38" stroke="#1a1a1a" stroke-width="1.0"/>
<text x="67.80" y="593.13" font-size="7.6" text-anchor="end" fill="#222" stroke="#222" stroke-width="0.26" font-weight="normal" >0.4</text>
<line x1="70.80" y1="602.24" x2="73.80" y2="602.24" stroke="#1a1a1a" stroke-width="1.0"/>
<text x="67.80" y="604.99" font-size="7.6" text-anchor="end" fill="#222" stroke="#222" stroke-width="0.26" font-weight="normal" >0.2</text>
<line x1="70.80" y1="614.10" x2="73.80" y2="614.10" stroke="#1a1a1a" stroke-width="1.0"/>
<text x="67.80" y="616.85" font-size="7.6" text-anchor="end" fill="#222" stroke="#222" stroke-width="0.26" font-weight="normal" >0</text>
<line x1="78.50" y1="616.40" x2="78.50" y2="619.40" stroke="#1a1a1a" stroke-width="1.0"/>
<text x="78.90" y="628.70" font-size="7.8" text-anchor="middle" fill="#222" stroke="#222" stroke-width="0.26" font-weight="normal" >0</text>
<line x1="95.50" y1="616.40" x2="95.50" y2="619.40" stroke="#1a1a1a" stroke-width="1.0"/>
<text x="95.90" y="628.70" font-size="7.8" text-anchor="middle" fill="#222" stroke="#222" stroke-width="0.26" font-weight="normal" >60</text>
<line x1="112.50" y1="616.40" x2="112.50" y2="619.40" stroke="#1a1a1a" stroke-width="1.0"/>
<text x="112.90" y="628.70" font-size="7.8" text-anchor="middle" fill="#222" stroke="#222" stroke-width="0.26" font-weight="normal" >120</text>
<line x1="129.50" y1="616.40" x2="129.50" y2="619.40" stroke="#1a1a1a" stroke-width="1.0"/>
<text x="129.90" y="628.70" font-size="7.8" text-anchor="middle" fill="#222" stroke="#222" stroke-width="0.26" font-weight="normal" >180</text>
<line x1="146.50" y1="616.40" x2="146.50" y2="619.40" stroke="#1a1a1a" stroke-width="1.0"/>
<text x="146.90" y="628.70" font-size="7.8" text-anchor="middle" fill="#222" stroke="#222" stroke-width="0.26" font-weight="normal" >240</text>
<line x1="163.50" y1="616.40" x2="163.50" y2="619.40" stroke="#1a1a1a" stroke-width="1.0"/>
<text x="163.90" y="628.70" font-size="7.8" text-anchor="middle" fill="#222" stroke="#222" stroke-width="0.26" font-weight="normal" >300</text>
<text x="120.80" y="642.00" font-size="9.6" text-anchor="middle" fill="#222" stroke="#222" stroke-width="0.26" font-weight="bold" textLength="21.2" lengthAdjust="spacingAndGlyphs">Months</text>
<text transform="translate(50.60,582.40) rotate(-90)" font-size="9.6" text-anchor="middle" fill="#111" stroke="#111" stroke-width="0.3" font-weight="bold" textLength="43.6" lengthAdjust="spacingAndGlyphs">Overall survival</text>
<text x="0.40" y="545.90" font-size="12.4" text-anchor="start" fill="#000" stroke="#000" stroke-width="0.26" font-weight="bold" >H</text>
<text x="120.80" y="545.00" font-size="9.1" text-anchor="middle" fill="#222" stroke="#222" stroke-width="0.26" font-weight="normal" >Intestine</text>
<text x="67.40" y="653.70" font-size="7.15" text-anchor="end" fill="#222" stroke="#222" stroke-width="0.26" font-weight="normal" >Number at risk</text>
<text x="67.40" y="664.00" font-size="7.15" text-anchor="end" fill="#222" stroke="#222" stroke-width="0.26" font-weight="normal" >GCB</text>
<text x="78.50" y="664.00" font-size="7.15" text-anchor="middle" fill="#222" stroke="#222" stroke-width="0.26" font-weight="normal" >17</text>
<text x="95.50" y="664.00" font-size="7.15" text-anchor="middle" fill="#222" stroke="#222" stroke-width="0.26" font-weight="normal" >13</text>
<text x="112.50" y="664.00" font-size="7.15" text-anchor="middle" fill="#222" stroke="#222" stroke-width="0.26" font-weight="normal" >7</text>
<text x="129.50" y="664.00" font-size="7.15" text-anchor="middle" fill="#222" stroke="#222" stroke-width="0.26" font-weight="normal" >6</text>
<text x="146.50" y="664.00" font-size="7.15" text-anchor="middle" fill="#222" stroke="#222" stroke-width="0.26" font-weight="normal" >3</text>
<text x="163.50" y="664.00" font-size="7.15" text-anchor="middle" fill="#222" stroke="#222" stroke-width="0.26" font-weight="normal" >0</text>
<text x="67.40" y="674.30" font-size="7.15" text-anchor="end" fill="#222" stroke="#222" stroke-width="0.26" font-weight="normal" >CD47-high non-GCB</text>
<text x="78.50" y="674.30" font-size="7.15" text-anchor="middle" fill="#222" stroke="#222" stroke-width="0.26" font-weight="normal" >12</text>
<text x="95.50" y="674.30" font-size="7.15" text-anchor="middle" fill="#222" stroke="#222" stroke-width="0.26" font-weight="normal" >8</text>
<text x="112.50" y="674.30" font-size="7.15" text-anchor="middle" fill="#222" stroke="#222" stroke-width="0.26" font-weight="normal" >7</text>
<text x="129.50" y="674.30" font-size="7.15" text-anchor="middle" fill="#222" stroke="#222" stroke-width="0.26" font-weight="normal" >4</text>
<text x="146.50" y="674.30" font-size="7.15" text-anchor="middle" fill="#222" stroke="#222" stroke-width="0.26" font-weight="normal" >1</text>
<text x="163.50" y="674.30" font-size="7.15" text-anchor="middle" fill="#222" stroke="#222" stroke-width="0.26" font-weight="normal" >0</text>
<text x="67.40" y="684.60" font-size="7.15" text-anchor="end" fill="#222" stroke="#222" stroke-width="0.26" font-weight="normal" >CD47-low non-GCB</text>
<text x="78.50" y="684.60" font-size="7.15" text-anchor="middle" fill="#222" stroke="#222" stroke-width="0.26" font-weight="normal" >23</text>
<text x="95.50" y="684.60" font-size="7.15" text-anchor="middle" fill="#222" stroke="#222" stroke-width="0.26" font-weight="normal" >18</text>
<text x="112.50" y="684.60" font-size="7.15" text-anchor="middle" fill="#222" stroke="#222" stroke-width="0.26" font-weight="normal" >13</text>
<text x="129.50" y="684.60" font-size="7.15" text-anchor="middle" fill="#222" stroke="#222" stroke-width="0.26" font-weight="normal" >6</text>
<text x="146.50" y="684.60" font-size="7.15" text-anchor="middle" fill="#222" stroke="#222" stroke-width="0.26" font-weight="normal" >1</text>
<text x="163.50" y="684.60" font-size="7.15" text-anchor="middle" fill="#222" stroke="#222" stroke-width="0.26" font-weight="normal" >0</text>
<path d="M78.40,552.40 L78.40,555.60 L81.80,555.60 L81.80,559.60 L85.20,559.60 L85.20,563.80 L100.30,563.80 L100.30,566.00 L121.80,566.00 L121.80,572.50 L147.40,572.50" fill="none" stroke="#c41f3e" stroke-width="1.3" stroke-linejoin="miter"/>
<line x1="135.60" y1="570.50" x2="135.60" y2="574.50" stroke="#c41f3e" stroke-width="1.0"/>
<line x1="137.60" y1="570.50" x2="137.60" y2="574.50" stroke="#c41f3e" stroke-width="1.0"/>
<line x1="147.40" y1="570.40" x2="147.40" y2="574.60" stroke="#c41f3e" stroke-width="1.0"/>
<path d="M78.40,552.40 L78.40,555.20 L81.30,555.20 L81.30,559.20 L85.60,559.20 L85.60,564.30 L100.30,564.30 L100.30,566.80 L148.40,566.80 L148.40,582.40 L160.90,582.40" fill="none" stroke="#38a24c" stroke-width="1.3" stroke-linejoin="miter"/>
<line x1="100.00" y1="562.30" x2="100.00" y2="566.30" stroke="#38a24c" stroke-width="1.0"/>
<line x1="103.00" y1="564.80" x2="103.00" y2="568.80" stroke="#38a24c" stroke-width="1.0"/>
<line x1="106.00" y1="564.80" x2="106.00" y2="568.80" stroke="#38a24c" stroke-width="1.0"/>
<line x1="108.50" y1="564.80" x2="108.50" y2="568.80" stroke="#38a24c" stroke-width="1.0"/>
<line x1="111.00" y1="564.80" x2="111.00" y2="568.80" stroke="#38a24c" stroke-width="1.0"/>
<line x1="114.00" y1="564.80" x2="114.00" y2="568.80" stroke="#38a24c" stroke-width="1.0"/>
<line x1="117.00" y1="564.80" x2="117.00" y2="568.80" stroke="#38a24c" stroke-width="1.0"/>
<line x1="120.00" y1="564.80" x2="120.00" y2="568.80" stroke="#38a24c" stroke-width="1.0"/>
<line x1="123.00" y1="564.80" x2="123.00" y2="568.80" stroke="#38a24c" stroke-width="1.0"/>
<line x1="127.00" y1="564.80" x2="127.00" y2="568.80" stroke="#38a24c" stroke-width="1.0"/>
<line x1="131.00" y1="564.80" x2="131.00" y2="568.80" stroke="#38a24c" stroke-width="1.0"/>
<line x1="135.00" y1="564.80" x2="135.00" y2="568.80" stroke="#38a24c" stroke-width="1.0"/>
<line x1="139.00" y1="564.80" x2="139.00" y2="568.80" stroke="#38a24c" stroke-width="1.0"/>
<line x1="143.00" y1="564.80" x2="143.00" y2="568.80" stroke="#38a24c" stroke-width="1.0"/>
<line x1="153.10" y1="580.40" x2="153.10" y2="584.40" stroke="#38a24c" stroke-width="1.0"/>
<line x1="160.90" y1="580.30" x2="160.90" y2="584.50" stroke="#38a24c" stroke-width="1.0"/>
<path d="M78.40,552.40 L78.40,555.20 L81.30,555.20 L81.30,558.80 L84.60,558.80 L84.60,563.30 L100.30,563.30 L100.30,565.10 L153.70,565.10" fill="none" stroke="#1b4878" stroke-width="1.3" stroke-linejoin="miter"/>
<line x1="101.00" y1="563.10" x2="101.00" y2="567.10" stroke="#1b4878" stroke-width="1.0"/>
<line x1="104.00" y1="563.10" x2="104.00" y2="567.10" stroke="#1b4878" stroke-width="1.0"/>
<line x1="107.00" y1="563.10" x2="107.00" y2="567.10" stroke="#1b4878" stroke-width="1.0"/>
<line x1="110.00" y1="563.10" x2="110.00" y2="567.10" stroke="#1b4878" stroke-width="1.0"/>
<line x1="112.70" y1="563.10" x2="112.70" y2="567.10" stroke="#1b4878" stroke-width="1.0"/>
<line x1="115.40" y1="563.10" x2="115.40" y2="567.10" stroke="#1b4878" stroke-width="1.0"/>
<line x1="118.70" y1="563.10" x2="118.70" y2="567.10" stroke="#1b4878" stroke-width="1.0"/>
<line x1="124.80" y1="563.10" x2="124.80" y2="567.10" stroke="#1b4878" stroke-width="1.0"/>
<line x1="126.80" y1="563.10" x2="126.80" y2="567.10" stroke="#1b4878" stroke-width="1.0"/>
<line x1="129.50" y1="563.10" x2="129.50" y2="567.10" stroke="#1b4878" stroke-width="1.0"/>
<line x1="141.00" y1="563.10" x2="141.00" y2="567.10" stroke="#1b4878" stroke-width="1.0"/>
<line x1="153.70" y1="563.00" x2="153.70" y2="567.20" stroke="#1b4878" stroke-width="1.0"/>
<path d="M78.40,552.20 L78.40,555.20 L81.30,555.20 L81.30,558.80 L84.60,558.80 L84.60,563.30 L88.00,563.30" fill="none" stroke="#24545a" stroke-width="1.5" stroke-linejoin="miter"/>
<text x="106.10" y="560.30" font-size="7" fill="#2f5b8e" stroke="#2f5b8e" stroke-width="0.1" textLength="60.5" lengthAdjust="spacingAndGlyphs">CD47-low non-GCB</text>
<text x="79.30" y="583.00" font-size="7" fill="#c8354f" stroke="#c8354f" stroke-width="0.1" textLength="62.8" lengthAdjust="spacingAndGlyphs">CD47-high non-GCB</text>
<text x="167.00" y="584.60" font-size="7" fill="#3fa653" stroke="#3fa653" stroke-width="0.1" textLength="13.8" lengthAdjust="spacingAndGlyphs">GCB</text>
<text x="78.50" y="610.80" font-size="7" fill="#222" stroke="#222" stroke-width="0.1" textLength="23.6" lengthAdjust="spacingAndGlyphs">P=.821</text>
<line x1="258.30" y1="548.70" x2="258.30" y2="617.00" stroke="#1a1a1a" stroke-width="1.3"/>
<line x1="257.70" y1="616.40" x2="352.30" y2="616.40" stroke="#1a1a1a" stroke-width="1.3"/>
<line x1="255.30" y1="554.80" x2="258.30" y2="554.80" stroke="#1a1a1a" stroke-width="1.0"/>
<text x="252.30" y="557.55" font-size="7.6" text-anchor="end" fill="#222" stroke="#222" stroke-width="0.26" font-weight="normal" >1.0</text>
<line x1="255.30" y1="566.66" x2="258.30" y2="566.66" stroke="#1a1a1a" stroke-width="1.0"/>
<text x="252.30" y="569.41" font-size="7.6" text-anchor="end" fill="#222" stroke="#222" stroke-width="0.26" font-weight="normal" >0.8</text>
<line x1="255.30" y1="578.52" x2="258.30" y2="578.52" stroke="#1a1a1a" stroke-width="1.0"/>
<text x="252.30" y="581.27" font-size="7.6" text-anchor="end" fill="#222" stroke="#222" stroke-width="0.26" font-weight="normal" >0.6</text>
<line x1="255.30" y1="590.38" x2="258.30" y2="590.38" stroke="#1a1a1a" stroke-width="1.0"/>
<text x="252.30" y="593.13" font-size="7.6" text-anchor="end" fill="#222" stroke="#222" stroke-width="0.26" font-weight="normal" >0.4</text>
<line x1="255.30" y1="602.24" x2="258.30" y2="602.24" stroke="#1a1a1a" stroke-width="1.0"/>
<text x="252.30" y="604.99" font-size="7.6" text-anchor="end" fill="#222" stroke="#222" stroke-width="0.26" font-weight="normal" >0.2</text>
<line x1="255.30" y1="614.10" x2="258.30" y2="614.10" stroke="#1a1a1a" stroke-width="1.0"/>
<text x="252.30" y="616.85" font-size="7.6" text-anchor="end" fill="#222" stroke="#222" stroke-width="0.26" font-weight="normal" >0</text>
<line x1="263.00" y1="616.40" x2="263.00" y2="619.40" stroke="#1a1a1a" stroke-width="1.0"/>
<text x="263.40" y="628.70" font-size="7.8" text-anchor="middle" fill="#222" stroke="#222" stroke-width="0.26" font-weight="normal" >0</text>
<line x1="280.00" y1="616.40" x2="280.00" y2="619.40" stroke="#1a1a1a" stroke-width="1.0"/>
<text x="280.40" y="628.70" font-size="7.8" text-anchor="middle" fill="#222" stroke="#222" stroke-width="0.26" font-weight="normal" >60</text>
<line x1="297.00" y1="616.40" x2="297.00" y2="619.40" stroke="#1a1a1a" stroke-width="1.0"/>
<text x="297.40" y="628.70" font-size="7.8" text-anchor="middle" fill="#222" stroke="#222" stroke-width="0.26" font-weight="normal" >120</text>
<line x1="314.00" y1="616.40" x2="314.00" y2="619.40" stroke="#1a1a1a" stroke-width="1.0"/>
<text x="314.40" y="628.70" font-size="7.8" text-anchor="middle" fill="#222" stroke="#222" stroke-width="0.26" font-weight="normal" >180</text>
<line x1="331.00" y1="616.40" x2="331.00" y2="619.40" stroke="#1a1a1a" stroke-width="1.0"/>
<text x="331.40" y="628.70" font-size="7.8" text-anchor="middle" fill="#222" stroke="#222" stroke-width="0.26" font-weight="normal" >240</text>
<line x1="348.00" y1="616.40" x2="348.00" y2="619.40" stroke="#1a1a1a" stroke-width="1.0"/>
<text x="348.40" y="628.70" font-size="7.8" text-anchor="middle" fill="#222" stroke="#222" stroke-width="0.26" font-weight="normal" >300</text>
<text x="305.30" y="642.00" font-size="9.6" text-anchor="middle" fill="#222" stroke="#222" stroke-width="0.26" font-weight="bold" textLength="21.2" lengthAdjust="spacingAndGlyphs">Months</text>
<text transform="translate(235.10,582.40) rotate(-90)" font-size="9.6" text-anchor="middle" fill="#111" stroke="#111" stroke-width="0.3" font-weight="bold" textLength="43.6" lengthAdjust="spacingAndGlyphs">Overall survival</text>
<text x="227.70" y="545.90" font-size="12.4" text-anchor="start" fill="#000" stroke="#000" stroke-width="0.26" font-weight="bold" >I</text>
<text x="305.30" y="545.00" font-size="9.1" text-anchor="middle" fill="#222" stroke="#222" stroke-width="0.26" font-weight="normal" >Lymph node</text>
<text x="251.90" y="653.70" font-size="7.15" text-anchor="end" fill="#222" stroke="#222" stroke-width="0.26" font-weight="normal" >Number at risk</text>
<text x="251.90" y="664.00" font-size="7.15" text-anchor="end" fill="#222" stroke="#222" stroke-width="0.26" font-weight="normal" >CD47-high</text>
<text x="263.00" y="664.00" font-size="7.15" text-anchor="middle" fill="#222" stroke="#222" stroke-width="0.26" font-weight="normal" >3</text>
<text x="280.00" y="664.00" font-size="7.15" text-anchor="middle" fill="#222" stroke="#222" stroke-width="0.26" font-weight="normal" >1</text>
<text x="297.00" y="664.00" font-size="7.15" text-anchor="middle" fill="#222" stroke="#222" stroke-width="0.26" font-weight="normal" >1</text>
<text x="314.00" y="664.00" font-size="7.15" text-anchor="middle" fill="#222" stroke="#222" stroke-width="0.26" font-weight="normal" >1</text>
<text x="331.00" y="664.00" font-size="7.15" text-anchor="middle" fill="#222" stroke="#222" stroke-width="0.26" font-weight="normal" >0</text>
<text x="348.00" y="664.00" font-size="7.15" text-anchor="middle" fill="#222" stroke="#222" stroke-width="0.26" font-weight="normal" >0</text>
<text x="251.90" y="674.30" font-size="7.15" text-anchor="end" fill="#222" stroke="#222" stroke-width="0.26" font-weight="normal" >CD47-low</text>
<text x="263.00" y="674.30" font-size="7.15" text-anchor="middle" fill="#222" stroke="#222" stroke-width="0.26" font-weight="normal" >43</text>
<text x="280.00" y="674.30" font-size="7.15" text-anchor="middle" fill="#222" stroke="#222" stroke-width="0.26" font-weight="normal" >21</text>
<text x="297.00" y="674.30" font-size="7.15" text-anchor="middle" fill="#222" stroke="#222" stroke-width="0.26" font-weight="normal" >13</text>
<text x="314.00" y="674.30" font-size="7.15" text-anchor="middle" fill="#222" stroke="#222" stroke-width="0.26" font-weight="normal" >2</text>
<text x="331.00" y="674.30" font-size="7.15" text-anchor="middle" fill="#222" stroke="#222" stroke-width="0.26" font-weight="normal" >0</text>
<text x="348.00" y="674.30" font-size="7.15" text-anchor="middle" fill="#222" stroke="#222" stroke-width="0.26" font-weight="normal" >0</text>
<path d="M263.00,554.30 L269.60,554.30 L269.60,574.00 L272.60,574.00 L272.60,594.00 L316.10,594.00 L316.10,613.30" fill="none" stroke="#c41f3e" stroke-width="1.3" stroke-linejoin="miter"/>
<path d="M263.00,554.30 L264.00,562.40 L268.20,565.30 L271.70,569.30 L274.60,571.10 L280.30,578.60 L284.40,580.90 L293.60,581.40 L295.90,583.20 L301.90,584.40 L305.40,586.10 L308.30,591.90 L311.10,600.20 L321.00,600.20 L321.00,606.90 L328.40,606.90" fill="none" stroke="#1b4878" stroke-width="1.3" stroke-linejoin="miter"/>
<line x1="263.20" y1="553.92" x2="263.20" y2="557.92" stroke="#1b4878" stroke-width="1.0"/>
<line x1="268.00" y1="563.16" x2="268.00" y2="567.16" stroke="#1b4878" stroke-width="1.0"/>
<line x1="276.00" y1="570.94" x2="276.00" y2="574.94" stroke="#1b4878" stroke-width="1.0"/>
<line x1="278.00" y1="573.57" x2="278.00" y2="577.57" stroke="#1b4878" stroke-width="1.0"/>
<line x1="282.00" y1="577.55" x2="282.00" y2="581.55" stroke="#1b4878" stroke-width="1.0"/>
<line x1="289.00" y1="579.15" x2="289.00" y2="583.15" stroke="#1b4878" stroke-width="1.0"/>
<line x1="291.00" y1="579.26" x2="291.00" y2="583.26" stroke="#1b4878" stroke-width="1.0"/>
<line x1="293.00" y1="579.37" x2="293.00" y2="583.37" stroke="#1b4878" stroke-width="1.0"/>
<line x1="298.00" y1="581.62" x2="298.00" y2="585.62" stroke="#1b4878" stroke-width="1.0"/>
<line x1="300.00" y1="582.02" x2="300.00" y2="586.02" stroke="#1b4878" stroke-width="1.0"/>
<line x1="303.00" y1="582.93" x2="303.00" y2="586.93" stroke="#1b4878" stroke-width="1.0"/>
<line x1="305.00" y1="583.91" x2="305.00" y2="587.91" stroke="#1b4878" stroke-width="1.0"/>
<line x1="328.40" y1="604.80" x2="328.40" y2="609.00" stroke="#1b4878" stroke-width="1.0"/>
<text x="326.10" y="603.10" font-size="7" fill="#2f5b8e" stroke="#2f5b8e" stroke-width="0.1" textLength="29.8" lengthAdjust="spacingAndGlyphs">CD47-low</text>
<text x="321.00" y="614.00" font-size="7" fill="#c8354f" stroke="#c8354f" stroke-width="0.1" textLength="32.3" lengthAdjust="spacingAndGlyphs">CD47-high</text>
<text x="263.50" y="610.20" font-size="7" fill="#222" stroke="#222" stroke-width="0.1" textLength="24.6" lengthAdjust="spacingAndGlyphs">P=.566</text>
<line x1="419.80" y1="548.70" x2="419.80" y2="617.00" stroke="#1a1a1a" stroke-width="1.3"/>
<line x1="419.20" y1="616.40" x2="513.80" y2="616.40" stroke="#1a1a1a" stroke-width="1.3"/>
<line x1="416.80" y1="554.80" x2="419.80" y2="554.80" stroke="#1a1a1a" stroke-width="1.0"/>
<text x="413.80" y="557.55" font-size="7.6" text-anchor="end" fill="#222" stroke="#222" stroke-width="0.26" font-weight="normal" >1.0</text>
<line x1="416.80" y1="566.66" x2="419.80" y2="566.66" stroke="#1a1a1a" stroke-width="1.0"/>
<text x="413.80" y="569.41" font-size="7.6" text-anchor="end" fill="#222" stroke="#222" stroke-width="0.26" font-weight="normal" >0.8</text>
<line x1="416.80" y1="578.52" x2="419.80" y2="578.52" stroke="#1a1a1a" stroke-width="1.0"/>
<text x="413.80" y="581.27" font-size="7.6" text-anchor="end" fill="#222" stroke="#222" stroke-width="0.26" font-weight="normal" >0.6</text>
<line x1="416.80" y1="590.38" x2="419.80" y2="590.38" stroke="#1a1a1a" stroke-width="1.0"/>
<text x="413.80" y="593.13" font-size="7.6" text-anchor="end" fill="#222" stroke="#222" stroke-width="0.26" font-weight="normal" >0.4</text>
<line x1="416.80" y1="602.24" x2="419.80" y2="602.24" stroke="#1a1a1a" stroke-width="1.0"/>
<text x="413.80" y="604.99" font-size="7.6" text-anchor="end" fill="#222" stroke="#222" stroke-width="0.26" font-weight="normal" >0.2</text>
<line x1="416.80" y1="614.10" x2="419.80" y2="614.10" stroke="#1a1a1a" stroke-width="1.0"/>
<text x="413.80" y="616.85" font-size="7.6" text-anchor="end" fill="#222" stroke="#222" stroke-width="0.26" font-weight="normal" >0</text>
<line x1="424.50" y1="616.40" x2="424.50" y2="619.40" stroke="#1a1a1a" stroke-width="1.0"/>
<text x="424.90" y="628.70" font-size="7.8" text-anchor="middle" fill="#222" stroke="#222" stroke-width="0.26" font-weight="normal" >0</text>
<line x1="441.50" y1="616.40" x2="441.50" y2="619.40" stroke="#1a1a1a" stroke-width="1.0"/>
<text x="441.90" y="628.70" font-size="7.8" text-anchor="middle" fill="#222" stroke="#222" stroke-width="0.26" font-weight="normal" >60</text>
<line x1="458.50" y1="616.40" x2="458.50" y2="619.40" stroke="#1a1a1a" stroke-width="1.0"/>
<text x="458.90" y="628.70" font-size="7.8" text-anchor="middle" fill="#222" stroke="#222" stroke-width="0.26" font-weight="normal" >120</text>
<line x1="475.50" y1="616.40" x2="475.50" y2="619.40" stroke="#1a1a1a" stroke-width="1.0"/>
<text x="475.90" y="628.70" font-size="7.8" text-anchor="middle" fill="#222" stroke="#222" stroke-width="0.26" font-weight="normal" >180</text>
<line x1="492.50" y1="616.40" x2="492.50" y2="619.40" stroke="#1a1a1a" stroke-width="1.0"/>
<text x="492.90" y="628.70" font-size="7.8" text-anchor="middle" fill="#222" stroke="#222" stroke-width="0.26" font-weight="normal" >240</text>
<line x1="509.50" y1="616.40" x2="509.50" y2="619.40" stroke="#1a1a1a" stroke-width="1.0"/>
<text x="509.90" y="628.70" font-size="7.8" text-anchor="middle" fill="#222" stroke="#222" stroke-width="0.26" font-weight="normal" >300</text>
<text x="466.80" y="642.00" font-size="9.6" text-anchor="middle" fill="#222" stroke="#222" stroke-width="0.26" font-weight="bold" textLength="21.2" lengthAdjust="spacingAndGlyphs">Months</text>
<text transform="translate(396.60,582.40) rotate(-90)" font-size="9.6" text-anchor="middle" fill="#111" stroke="#111" stroke-width="0.3" font-weight="bold" textLength="43.6" lengthAdjust="spacingAndGlyphs">Overall survival</text>
<text x="388.60" y="546.00" font-size="12.4" text-anchor="start" fill="#000" stroke="#000" stroke-width="0.26" font-weight="bold" >J</text>
<text x="466.80" y="545.00" font-size="9.1" text-anchor="middle" fill="#222" stroke="#222" stroke-width="0.26" font-weight="normal" >Extranodal/Non-intestinal</text>
<text x="413.40" y="653.70" font-size="7.15" text-anchor="end" fill="#222" stroke="#222" stroke-width="0.26" font-weight="normal" >Number at risk</text>
<text x="413.40" y="664.00" font-size="7.15" text-anchor="end" fill="#222" stroke="#222" stroke-width="0.26" font-weight="normal" >CD47-low</text>
<text x="424.50" y="664.00" font-size="7.15" text-anchor="middle" fill="#222" stroke="#222" stroke-width="0.26" font-weight="normal" >49</text>
<text x="441.50" y="664.00" font-size="7.15" text-anchor="middle" fill="#222" stroke="#222" stroke-width="0.26" font-weight="normal" >31</text>
<text x="458.50" y="664.00" font-size="7.15" text-anchor="middle" fill="#222" stroke="#222" stroke-width="0.26" font-weight="normal" >25</text>
<text x="475.50" y="664.00" font-size="7.15" text-anchor="middle" fill="#222" stroke="#222" stroke-width="0.26" font-weight="normal" >7</text>
<text x="492.50" y="664.00" font-size="7.15" text-anchor="middle" fill="#222" stroke="#222" stroke-width="0.26" font-weight="normal" >3</text>
<text x="509.50" y="664.00" font-size="7.15" text-anchor="middle" fill="#222" stroke="#222" stroke-width="0.26" font-weight="normal" >0</text>
<text x="413.40" y="674.30" font-size="7.15" text-anchor="end" fill="#222" stroke="#222" stroke-width="0.26" font-weight="normal" >CD47-high</text>
<text x="424.50" y="674.30" font-size="7.15" text-anchor="middle" fill="#222" stroke="#222" stroke-width="0.26" font-weight="normal" >6</text>
<text x="441.50" y="674.30" font-size="7.15" text-anchor="middle" fill="#222" stroke="#222" stroke-width="0.26" font-weight="normal" >3</text>
<text x="458.50" y="674.30" font-size="7.15" text-anchor="middle" fill="#222" stroke="#222" stroke-width="0.26" font-weight="normal" >2</text>
<text x="475.50" y="674.30" font-size="7.15" text-anchor="middle" fill="#222" stroke="#222" stroke-width="0.26" font-weight="normal" >0</text>
<text x="492.50" y="674.30" font-size="7.15" text-anchor="middle" fill="#222" stroke="#222" stroke-width="0.26" font-weight="normal" >0</text>
<text x="509.50" y="674.30" font-size="7.15" text-anchor="middle" fill="#222" stroke="#222" stroke-width="0.26" font-weight="normal" >0</text>
<path d="M424.30,552.30 L425.30,558.00 L426.00,563.40 L429.20,563.40 L429.20,573.50 L438.30,573.50 L438.30,583.60 L472.50,583.60" fill="none" stroke="#5c2d70" stroke-width="1.3" stroke-linejoin="miter"/>
<line x1="443.10" y1="581.60" x2="443.10" y2="585.60" stroke="#5c2d70" stroke-width="1.0"/>
<line x1="465.70" y1="581.60" x2="465.70" y2="585.60" stroke="#5c2d70" stroke-width="1.0"/>
<line x1="472.50" y1="581.50" x2="472.50" y2="585.70" stroke="#5c2d70" stroke-width="1.0"/>
<path d="M423.90,552.30 L424.50,557.60 L426.80,559.50 L429.70,563.90 L432.50,567.20 L436.40,568.20 L440.20,570.60 L446.00,571.60 L453.70,572.00 L457.50,573.00 L461.90,575.00 L466.50,578.50 L471.70,581.30 L476.90,584.80 L479.80,587.10 L481.00,590.60 L499.40,590.60" fill="none" stroke="#1b4878" stroke-width="1.5" stroke-linejoin="miter"/>
<line x1="425.00" y1="556.01" x2="425.00" y2="560.01" stroke="#1b4878" stroke-width="1.0"/>
<line x1="427.00" y1="557.80" x2="427.00" y2="561.80" stroke="#1b4878" stroke-width="1.0"/>
<line x1="445.50" y1="569.51" x2="445.50" y2="573.51" stroke="#1b4878" stroke-width="1.0"/>
<line x1="453.50" y1="569.99" x2="453.50" y2="573.99" stroke="#1b4878" stroke-width="1.0"/>
<line x1="459.00" y1="571.68" x2="459.00" y2="575.68" stroke="#1b4878" stroke-width="1.0"/>
<line x1="462.00" y1="573.08" x2="462.00" y2="577.08" stroke="#1b4878" stroke-width="1.0"/>
<line x1="464.00" y1="574.60" x2="464.00" y2="578.60" stroke="#1b4878" stroke-width="1.0"/>
<line x1="466.00" y1="576.12" x2="466.00" y2="580.12" stroke="#1b4878" stroke-width="1.0"/>
<line x1="468.00" y1="577.31" x2="468.00" y2="581.31" stroke="#1b4878" stroke-width="1.0"/>
<line x1="470.00" y1="578.38" x2="470.00" y2="582.38" stroke="#1b4878" stroke-width="1.0"/>
<line x1="472.00" y1="579.50" x2="472.00" y2="583.50" stroke="#1b4878" stroke-width="1.0"/>
<line x1="474.00" y1="580.85" x2="474.00" y2="584.85" stroke="#1b4878" stroke-width="1.0"/>
<line x1="476.00" y1="582.19" x2="476.00" y2="586.19" stroke="#1b4878" stroke-width="1.0"/>
<line x1="490.80" y1="588.60" x2="490.80" y2="592.60" stroke="#1b4878" stroke-width="1.0"/>
<line x1="493.10" y1="588.60" x2="493.10" y2="592.60" stroke="#1b4878" stroke-width="1.0"/>
<line x1="499.40" y1="588.50" x2="499.40" y2="592.70" stroke="#1b4878" stroke-width="1.0"/>
<text x="483.80" y="586.70" font-size="7" fill="#2f5b8e" stroke="#2f5b8e" stroke-width="0.1" textLength="29.8" lengthAdjust="spacingAndGlyphs">CD47-low</text>
<text x="438.30" y="593.30" font-size="7" fill="#6a4585" stroke="#6a4585" stroke-width="0.1" textLength="31.5" lengthAdjust="spacingAndGlyphs">CD47-high</text>
<text x="424.80" y="610.20" font-size="7" fill="#222" stroke="#222" stroke-width="0.1" textLength="24.0" lengthAdjust="spacingAndGlyphs">P=.536</text>
<text x="261.2" y="7.7" font-size="9.1" text-anchor="middle" fill="#000" font-weight="bold" textLength="68.5" lengthAdjust="spacingAndGlyphs">Training cohort</text>
<text x="261.5" y="360.0" font-size="9.1" text-anchor="middle" fill="#000" font-weight="bold" textLength="77.9" lengthAdjust="spacingAndGlyphs">Validation cohort</text>
</svg>
</body></html>
